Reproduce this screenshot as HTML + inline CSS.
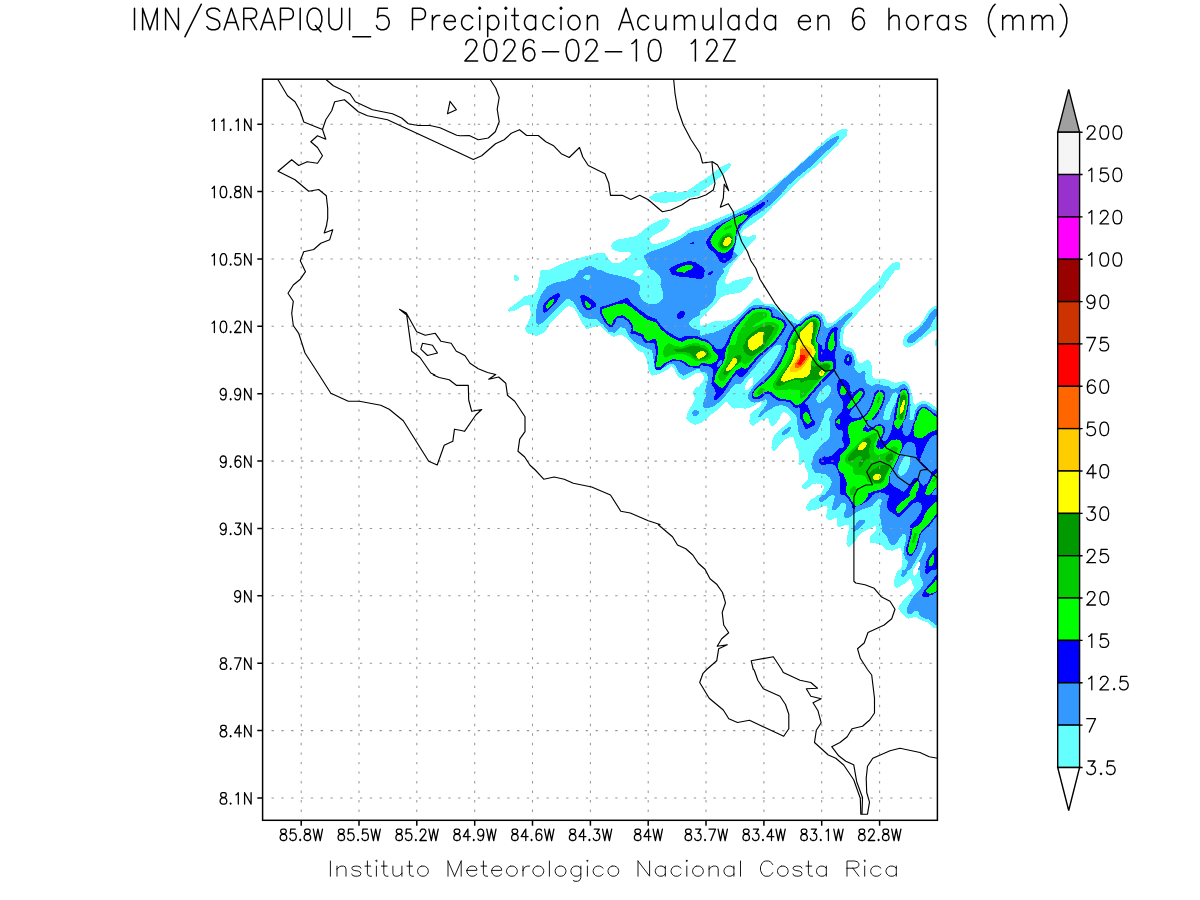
<!DOCTYPE html>
<html lang="es"><head><meta charset="utf-8"><title>IMN/SARAPIQUI_5 Precipitacion Acumulada en 6 horas (mm)</title>
<style>html,body{margin:0;padding:0;background:#fff;width:1200px;height:900px;overflow:hidden;font-family:"Liberation Sans",sans-serif}svg{display:block}</style>
</head><body>
<svg width="1200" height="900" viewBox="0 0 1200 900" role="img" aria-label="IMN/SARAPIQUI_5 Precipitacion Acumulada en 6 horas (mm) 2026-02-10 12Z">
<title>IMN/SARAPIQUI_5 Precipitacion Acumulada en 6 horas (mm) 2026-02-10 12Z</title>
<desc>Mapa de precipitacion acumulada en 6 horas (mm) sobre Costa Rica. Latitudes 8.1N a 11.1N, longitudes 85.8W a 82.8W. Escala de colores: 3.5, 7, 12.5, 15, 20, 25, 30, 40, 50, 60, 75, 90, 100, 120, 150, 200. Instituto Meteorologico Nacional Costa Rica</desc>
<defs><clipPath id="fc"><rect x="262.6" y="79.2" width="674.8" height="741.1"/></clipPath></defs>
<g shape-rendering="crispEdges" clip-path="url(#fc)"><path fill="#66ffff" fill-rule="evenodd" d="M936.4 339.1L935.1 340.1L934.6 341.1L934.9 345.4L935.9 346.6L936.4 346.6L937.1 345.9L937.1 339.6ZM936.4 305.6L932.4 307.1L928.4 310.9L924.1 318.9L920.4 323.9L917.9 326.4L913.1 329.9L907.6 333.1L904.6 336.1L903.1 340.1L903.4 344.6L904.6 346.1L907.4 347.6L911.9 346.4L915.6 344.1L930.4 332.9L933.4 330.9L936.1 330.1L937.1 329.1L937.1 306.4ZM515.4 274.9L514.4 275.4L513.6 276.4L514.1 279.4L516.1 281.4L517.1 281.4L519.1 279.4L519.4 277.9L516.6 274.9ZM731.4 164.6L730.1 163.4L727.9 163.4L720.9 167.1L710.6 174.9L699.1 182.4L694.1 186.4L686.9 190.9L677.4 192.6L664.4 191.9L656.1 193.1L653.4 194.4L649.9 196.6L649.1 197.4L649.1 197.9L651.4 199.6L655.4 201.9L662.4 202.9L673.9 202.1L682.1 200.4L689.9 197.6L698.9 195.6L699.9 194.6L699.9 193.1L701.1 191.6L711.4 184.9L727.1 170.6L729.1 168.4ZM508.1 309.1L507.9 310.6L508.9 311.6L510.1 311.6L516.6 310.1L524.9 304.6L526.4 304.6L528.9 305.4L530.1 306.6L530.9 315.1L528.1 322.4L525.4 327.6L525.4 329.4L526.4 332.1L527.4 333.4L535.6 335.6L537.6 335.6L544.6 332.1L546.1 330.4L550.1 323.4L566.6 307.4L568.4 306.1L569.4 306.1L572.6 307.4L574.1 308.6L578.1 314.6L581.9 323.4L586.6 328.9L587.6 329.1L594.4 326.6L600.1 326.1L606.9 332.6L613.1 336.6L614.4 336.6L619.1 334.6L620.9 334.6L625.1 336.9L632.1 343.6L637.1 350.1L642.6 352.4L643.9 353.6L646.9 360.1L648.6 370.6L650.9 374.4L651.9 375.4L652.9 375.6L660.4 373.4L666.4 370.4L671.4 366.4L672.4 366.6L674.6 369.4L677.6 376.6L682.9 379.9L684.1 379.9L690.6 376.6L694.4 373.9L696.1 373.1L700.1 372.9L702.1 373.6L703.1 374.6L703.9 376.6L703.9 378.9L703.1 381.1L700.1 384.4L700.1 385.6L698.9 386.9L696.1 387.4L694.4 389.1L692.9 392.6L692.9 394.1L694.9 397.9L694.9 399.1L691.6 405.6L687.6 412.1L686.4 417.9L686.4 419.1L690.6 422.9L694.4 424.6L696.1 424.6L702.1 422.4L704.1 420.4L706.4 419.6L707.6 417.6L709.4 415.9L714.1 412.6L718.6 408.9L724.9 402.6L726.4 401.6L727.9 402.6L728.6 404.4L730.9 406.6L733.9 408.6L738.1 408.1L745.6 408.6L750.4 407.4L754.9 405.1L759.1 402.4L760.9 402.4L761.9 403.6L761.4 404.6L758.4 407.9L753.4 411.1L750.4 414.6L749.9 418.9L749.1 421.1L750.4 424.1L752.4 426.4L753.6 426.1L759.9 420.4L760.9 419.9L764.4 419.9L766.6 418.1L767.4 418.1L768.6 419.4L769.1 421.9L770.9 425.4L771.9 426.4L773.1 426.4L775.6 424.4L777.6 420.9L780.1 418.9L780.6 415.4L783.1 412.4L784.4 412.1L787.1 413.4L790.1 416.6L791.1 418.9L784.4 425.9L780.1 429.4L774.6 434.9L772.1 440.9L771.4 448.1L772.6 450.6L773.1 451.1L774.1 451.1L777.4 447.9L780.4 443.9L785.1 439.4L789.6 437.1L792.9 437.4L793.9 438.4L796.6 447.9L799.4 452.1L799.4 457.9L798.4 464.1L798.9 465.1L799.9 465.4L803.1 462.4L803.6 462.4L804.6 463.4L805.1 466.9L806.9 470.6L808.4 475.1L808.1 478.9L807.6 479.9L802.6 484.6L801.9 485.9L801.6 487.6L802.9 488.6L806.4 488.9L812.4 484.4L816.6 483.4L821.1 484.1L823.6 485.9L823.9 486.9L823.4 489.9L820.6 493.9L819.1 495.1L817.1 495.6L814.6 497.9L811.9 498.9L809.4 501.4L806.1 506.6L806.1 508.6L806.6 509.6L808.1 510.6L810.4 510.6L814.4 509.9L819.6 508.4L823.9 505.9L825.6 505.6L827.4 507.1L827.6 508.6L825.9 517.4L826.9 519.1L829.1 520.4L830.1 520.4L833.1 519.1L835.1 517.6L836.4 518.1L836.9 518.9L836.9 521.6L836.4 524.1L837.1 526.1L838.6 527.4L839.9 527.4L841.4 526.4L844.9 525.1L848.1 524.6L849.1 525.6L849.4 527.4L846.9 537.9L846.4 544.1L847.4 546.1L848.6 547.1L850.1 546.4L853.1 543.9L856.9 538.6L858.4 535.9L861.6 532.9L871.6 527.9L874.1 526.1L875.4 526.1L876.6 527.9L875.6 530.9L873.6 533.1L870.9 535.4L869.6 538.4L869.6 541.4L869.9 542.4L870.9 543.4L875.6 543.4L879.9 544.4L882.9 546.4L886.4 549.6L888.6 550.4L893.1 550.6L900.1 547.4L901.1 548.4L902.6 559.1L902.1 564.9L900.6 569.1L899.9 569.9L898.6 570.1L897.4 571.4L895.9 574.4L894.4 579.9L894.4 585.4L895.1 586.6L896.4 587.6L897.9 587.6L904.9 583.4L909.4 579.1L910.4 579.1L911.4 580.1L912.6 584.6L914.1 587.4L914.1 588.6L911.4 592.4L904.4 599.1L901.6 602.4L898.9 606.4L898.4 608.4L900.4 612.1L907.1 618.4L909.1 618.6L914.4 617.1L916.1 617.1L919.9 619.6L927.6 622.4L933.6 627.6L936.1 628.1L936.9 627.6L937.1 408.6L935.9 407.1L932.9 405.4L929.1 402.4L925.1 401.1L922.4 401.1L918.1 402.9L916.1 404.6L915.1 404.6L914.4 404.1L913.1 402.1L912.6 396.6L909.6 385.9L908.1 383.4L906.1 381.6L904.6 381.1L902.6 381.1L900.1 382.1L894.6 382.9L888.6 380.4L883.6 378.9L876.4 379.4L873.4 377.6L872.1 375.9L871.6 372.6L871.6 365.1L870.4 361.4L869.1 360.4L866.4 360.4L864.9 361.1L862.1 363.4L860.4 363.4L858.9 362.9L857.6 361.4L855.1 353.1L853.4 349.9L851.9 348.4L846.6 346.9L843.6 343.9L842.6 340.9L844.1 329.4L845.1 327.4L854.1 317.6L862.6 307.6L882.9 287.4L894.4 271.4L896.1 269.9L898.9 269.9L899.6 269.4L899.9 263.6L898.1 262.1L896.4 262.1L891.6 263.6L884.6 270.9L882.9 273.4L880.9 277.6L877.4 282.1L870.9 287.6L863.4 295.1L859.1 301.6L855.9 304.9L845.9 311.9L833.9 321.9L831.4 323.4L827.9 323.1L826.9 322.1L825.6 319.6L824.4 315.4L820.9 312.4L816.9 311.1L813.9 311.1L810.1 312.1L804.4 315.6L799.6 319.6L796.9 319.6L795.9 319.1L791.9 314.6L780.1 309.4L773.1 304.4L766.1 304.1L763.6 303.6L759.4 298.6L757.9 297.6L756.9 297.6L753.6 299.9L742.6 310.9L738.6 314.4L733.4 318.4L731.1 319.6L725.6 320.9L716.6 320.9L710.6 322.6L707.1 324.4L703.9 325.4L701.1 325.6L699.9 324.4L699.9 319.9L700.4 318.9L715.6 303.9L718.1 300.6L721.1 297.6L726.1 294.9L739.1 292.9L741.4 291.9L744.1 290.1L746.9 287.4L750.9 282.4L753.4 278.4L752.6 277.1L751.1 276.6L749.1 276.6L742.1 278.9L733.4 280.9L727.9 284.1L726.6 284.1L725.9 283.6L724.6 281.9L724.6 280.9L726.9 274.9L728.9 271.1L729.4 269.1L731.9 265.4L743.1 251.9L756.4 237.9L756.4 236.6L755.9 235.6L754.6 234.6L749.4 236.6L746.6 236.6L742.1 235.6L741.1 234.9L740.9 234.1L742.9 231.1L744.9 229.1L754.6 222.6L764.1 215.6L772.6 206.4L789.9 189.4L801.9 178.1L817.1 165.4L829.6 152.9L837.6 145.6L847.1 134.9L847.6 130.1L846.9 129.4L840.9 129.4L830.9 135.4L816.9 147.9L798.4 165.4L783.4 178.1L766.6 191.6L749.1 204.1L733.6 211.9L700.1 225.9L694.9 226.9L690.1 228.6L687.1 230.4L683.1 234.1L680.9 235.6L665.9 241.1L656.1 244.1L654.1 244.1L651.4 243.1L649.9 241.6L649.6 238.6L650.4 237.6L655.4 234.1L663.4 230.1L668.1 225.4L669.9 221.1L669.6 219.9L666.9 217.9L659.4 220.4L649.6 225.4L643.6 229.9L636.6 235.9L627.6 237.9L618.4 239.4L613.9 241.6L612.6 242.9L611.4 244.9L611.1 246.1L612.9 249.4L614.1 250.4L619.9 251.9L628.4 251.9L630.6 252.9L631.1 253.6L631.1 254.4L627.6 258.1L619.9 262.6L612.4 262.6L608.9 259.1L605.1 253.6L604.1 253.1L599.9 252.6L578.9 258.1L566.6 261.9L556.6 266.1L549.4 270.1L541.4 270.1L540.4 271.1L537.9 287.4L536.6 290.1L534.4 293.6L532.9 295.1L526.6 295.6L524.9 296.1L517.6 302.1ZM919.1 562.1L919.9 562.6L920.1 563.9L919.6 565.9L918.1 568.6L917.9 571.1L916.4 574.1L914.4 575.9L913.1 574.9L912.9 570.6L916.9 563.4L917.6 562.6ZM752.4 377.4L753.4 378.4L752.9 384.1L751.1 386.6L748.4 389.4L746.9 390.4L745.9 390.4L745.1 389.4L744.9 386.1L748.1 380.9L751.1 377.6ZM642.6 270.6L643.1 271.6L642.9 272.9L639.6 275.9L638.4 276.1L634.1 275.6L633.1 274.6L633.1 274.1L636.4 270.9L637.9 270.1L641.6 269.9Z"/><path fill="#3399ff" fill-rule="evenodd" d="M865.4 520.9L863.4 519.6L861.6 519.6L858.6 520.9L855.1 525.1L852.9 530.1L853.1 531.1L853.6 531.6L854.6 531.6L856.9 530.1L864.9 522.6ZM790.1 427.1L789.1 426.9L784.9 429.6L782.9 431.6L781.9 433.4L781.9 434.6L782.6 435.4L783.9 435.4L788.1 432.4L789.6 430.9L790.6 428.9L790.6 427.6ZM696.6 409.9L695.1 409.9L692.1 412.1L692.9 415.6L693.9 416.6L697.1 415.9L698.1 414.9L699.1 412.6L698.9 411.6ZM936.1 308.6L934.1 309.6L929.4 314.4L926.6 319.1L921.9 325.6L916.1 331.1L910.4 335.1L908.6 336.9L907.1 339.6L907.1 341.4L908.1 342.6L909.1 343.1L911.4 343.1L913.6 342.4L923.6 334.1L929.1 328.6L933.9 319.6L937.1 314.9L937.1 309.4ZM545.9 288.1L540.9 295.1L537.4 304.1L535.9 312.9L535.9 322.6L536.9 323.9L538.4 324.6L540.4 324.4L544.4 320.9L565.1 300.1L567.4 298.6L569.1 298.6L573.9 302.6L578.6 310.6L583.6 316.9L590.1 319.4L596.4 319.4L597.4 319.9L603.6 325.4L608.4 331.6L609.6 332.1L614.4 332.6L615.1 332.4L620.4 327.1L624.4 328.1L625.6 329.4L629.1 336.1L633.4 340.9L639.6 344.9L646.6 348.4L650.6 349.6L652.1 351.1L653.6 359.6L654.1 365.6L654.9 368.1L656.1 369.6L658.9 370.1L660.1 369.9L662.4 368.1L665.6 366.6L669.4 363.9L671.6 363.6L673.9 364.4L675.1 365.6L677.9 371.1L680.1 373.4L683.4 375.6L684.1 375.6L696.1 369.6L698.6 368.9L700.1 369.9L700.1 370.9L700.9 371.6L703.9 371.6L705.6 372.6L706.9 373.9L707.9 377.1L707.9 380.1L705.4 389.1L705.4 391.6L706.1 393.9L706.1 395.9L704.4 399.1L702.9 404.6L703.1 406.4L705.1 408.1L707.6 408.1L710.9 407.4L714.4 405.6L718.9 402.4L724.9 396.4L730.4 389.4L735.4 383.9L737.4 383.6L738.6 384.1L740.1 384.1L741.6 382.9L766.1 354.1L772.6 347.6L776.4 344.9L780.9 344.9L781.9 346.1L780.4 350.4L777.1 356.6L770.4 367.9L765.9 373.6L754.9 384.1L749.1 392.6L747.9 395.9L747.9 397.6L748.9 399.6L750.4 401.1L752.9 402.4L754.4 402.6L758.9 402.1L765.1 399.4L765.6 399.4L766.9 400.6L767.1 403.1L763.9 408.4L758.9 414.4L758.4 416.6L759.4 417.4L761.1 416.6L766.1 411.9L775.1 406.4L779.9 405.4L782.9 405.4L787.1 407.1L791.4 411.4L793.1 412.6L795.6 415.1L796.6 417.1L796.6 421.6L797.6 424.9L798.1 430.6L800.1 436.6L801.1 437.6L804.6 439.6L806.9 439.6L809.1 439.1L810.6 436.1L812.9 434.1L816.1 432.4L817.9 430.4L819.9 426.6L821.6 421.4L823.4 418.9L824.1 413.6L826.4 410.1L828.6 408.4L830.4 408.4L831.4 409.4L831.9 410.6L831.9 412.6L829.1 418.9L829.9 422.4L830.1 426.4L829.6 437.1L829.1 438.1L820.4 446.4L814.6 453.4L813.6 455.4L813.1 459.4L811.4 463.4L811.9 468.1L815.1 472.4L816.1 472.9L824.9 474.1L826.6 474.9L830.1 477.9L831.6 481.1L831.6 483.1L830.1 487.6L824.9 494.6L824.1 495.1L822.1 495.1L820.9 496.1L819.4 498.6L819.4 501.4L820.4 502.4L822.1 502.4L831.1 495.1L833.9 494.9L834.9 496.4L832.1 507.1L832.4 509.6L833.1 510.4L834.1 510.4L835.6 509.6L839.6 505.9L839.9 504.4L841.1 503.1L843.6 502.9L844.6 503.4L845.9 504.9L846.4 508.1L844.6 511.9L843.6 516.4L844.9 517.6L846.1 518.1L847.6 518.1L852.6 515.4L856.9 511.9L862.4 509.1L866.4 508.1L872.4 505.9L874.4 502.9L876.6 500.6L878.6 499.4L880.9 499.1L881.9 500.1L880.1 507.1L880.1 516.6L881.4 523.6L881.9 531.4L882.4 532.4L887.4 537.4L889.6 543.6L891.9 545.6L894.9 544.9L896.4 543.6L899.9 537.4L902.9 533.9L904.1 533.6L905.9 535.1L905.9 540.6L904.4 546.4L903.4 553.4L905.4 558.6L907.9 561.4L908.1 562.9L905.9 568.9L904.9 569.9L902.9 570.1L901.9 571.1L901.4 575.1L901.6 576.4L902.4 577.1L904.1 576.6L906.9 573.4L907.6 571.1L910.1 569.4L911.9 567.1L919.9 553.4L921.9 548.6L923.1 543.6L924.4 542.4L925.6 542.9L925.9 546.9L923.4 553.6L920.6 559.1L918.9 561.1L920.1 562.9L919.6 565.9L918.1 568.6L918.4 569.6L919.4 570.1L920.1 571.1L920.1 576.6L922.6 581.1L923.1 584.6L920.4 589.1L915.4 593.9L910.9 599.9L907.4 606.9L906.6 609.4L906.6 611.6L907.1 612.9L908.4 613.9L911.4 613.9L914.9 611.1L916.9 610.4L918.1 611.4L919.6 614.9L921.1 616.9L924.9 618.4L928.6 619.1L935.1 624.6L936.1 625.1L937.1 624.4L936.9 411.6L935.1 410.1L931.9 408.4L927.4 404.6L923.4 403.9L921.9 404.1L919.4 405.1L917.6 406.6L915.4 410.6L914.1 415.1L913.6 418.9L912.4 420.1L910.6 420.1L909.4 418.9L910.6 405.4L910.1 394.9L908.4 388.4L905.9 384.9L904.1 384.1L901.1 384.6L898.6 387.1L893.4 389.4L891.6 388.9L888.1 386.1L883.6 385.6L877.9 383.9L876.4 383.9L872.6 385.9L871.4 385.9L867.9 384.1L866.1 382.1L864.9 378.4L865.6 372.9L864.6 370.6L863.4 370.6L860.4 372.9L858.1 372.9L856.6 371.6L854.4 367.9L854.9 361.4L853.6 355.9L852.1 352.9L850.4 351.6L847.6 351.1L842.9 349.1L841.1 347.4L840.4 345.9L839.4 340.1L839.9 334.4L841.6 328.1L845.9 321.9L852.4 314.9L852.6 313.1L851.6 312.4L848.9 313.1L845.4 315.4L837.1 322.4L832.6 325.6L828.4 327.6L826.1 327.6L824.6 326.1L822.6 318.9L821.9 317.4L818.6 314.1L816.6 313.6L813.9 313.6L810.1 314.6L804.4 318.1L800.4 321.6L800.1 322.9L799.1 323.9L798.1 324.1L795.1 323.4L788.9 320.1L784.4 316.9L777.9 310.4L773.1 306.9L757.4 304.6L754.6 304.6L749.9 307.1L737.9 318.9L732.6 322.9L724.4 327.9L714.4 332.4L704.9 334.4L701.1 335.9L699.9 334.9L699.9 330.9L699.4 330.1L692.1 327.9L688.6 323.9L688.9 322.6L693.1 318.4L698.4 316.1L699.6 315.1L699.9 311.9L700.9 310.6L705.4 308.6L712.9 301.4L715.9 295.1L715.9 286.6L717.6 280.9L724.6 271.1L724.1 270.1L722.9 269.6L722.9 268.9L732.9 260.6L737.6 255.9L737.4 254.4L735.1 253.1L733.9 251.9L733.6 250.6L735.6 244.6L737.6 235.1L741.9 226.9L750.1 218.4L758.1 213.6L769.9 205.4L780.6 194.6L787.9 185.9L800.6 174.6L812.9 164.9L824.9 152.9L834.1 144.4L839.1 138.6L839.4 136.9L838.9 136.1L837.6 135.6L830.1 139.4L815.6 151.1L780.6 181.9L763.4 198.4L750.6 207.4L723.9 219.1L709.1 227.4L701.6 230.4L696.1 230.6L688.9 233.1L679.9 239.6L670.4 244.4L660.4 248.4L650.6 251.6L644.9 254.9L643.6 256.6L647.6 264.6L650.6 268.9L651.9 269.9L653.1 269.9L654.1 270.4L657.6 273.9L660.9 278.1L661.1 279.4L660.4 285.1L662.9 291.9L662.9 298.9L661.6 300.4L658.1 302.9L656.6 303.6L648.6 303.6L642.9 300.9L641.4 299.4L639.4 294.4L639.4 291.6L640.4 287.6L640.4 286.1L638.1 283.6L634.6 280.9L626.4 277.6L607.6 273.1L600.9 270.1L597.9 270.1L595.1 267.9L591.6 266.1L589.4 266.1L585.9 266.9L584.6 267.6L582.9 269.6L581.9 270.1L579.6 270.1L578.6 270.9L575.4 276.4L574.1 277.4L566.1 280.4L555.1 282.6L547.6 286.4ZM906.6 455.1L908.1 455.9L909.6 457.4L909.6 464.6L908.1 469.4L905.9 472.9L903.9 474.9L901.6 475.9L900.6 475.9L899.1 475.1L898.1 473.9L898.1 470.9L899.9 464.9L903.1 458.4L905.6 455.4ZM895.6 392.1L896.9 393.1L897.6 394.6L897.6 396.4L896.1 401.9L892.9 408.1L890.6 414.1L889.9 418.9L888.6 420.1L884.4 420.1L883.1 418.9L883.9 412.9L886.4 405.6L889.6 400.6L892.1 394.9L894.1 392.9ZM828.9 385.4L830.9 387.6L830.9 390.4L830.1 393.6L826.9 397.6L821.9 402.1L820.4 402.9L817.9 402.9L816.6 401.6L816.4 397.9L818.6 393.4L821.6 389.6L824.9 386.4L827.6 385.1ZM583.1 276.9L585.6 274.9L589.4 275.1L590.6 276.4L590.9 277.9L590.1 278.9L587.9 279.9L586.4 279.9L583.9 278.6L583.1 277.9Z"/><path fill="#0000ff" fill-rule="evenodd" d="M936.9 574.9L936.1 574.9L931.9 581.1L924.4 590.1L922.4 594.4L922.4 595.4L923.4 596.6L928.9 596.6L932.4 594.9L936.9 591.9ZM936.6 547.4L936.1 547.4L931.9 552.1L929.1 556.1L926.6 561.1L925.4 566.1L925.6 568.9L924.6 570.6L924.6 571.6L926.4 574.4L927.4 574.4L930.9 570.1L936.1 569.9L937.1 568.9L937.1 547.9ZM839.4 379.6L837.9 381.1L837.1 384.6L837.6 391.9L839.9 396.6L843.4 402.1L843.4 406.9L841.6 412.1L836.9 416.9L834.6 420.6L834.6 422.6L835.4 425.6L837.1 428.6L838.6 429.9L841.6 429.9L843.1 431.6L843.4 435.9L841.9 438.6L841.9 440.1L843.9 443.9L843.9 446.1L842.6 447.6L839.1 448.6L832.9 454.9L831.6 455.6L828.1 456.9L824.1 456.4L820.4 457.6L818.6 459.9L818.9 462.1L820.1 463.9L822.1 464.9L824.6 464.9L829.6 463.6L831.4 463.6L834.4 465.1L835.6 466.4L837.9 470.6L838.9 474.6L840.1 477.6L840.1 493.9L841.1 494.9L844.6 494.9L846.1 496.1L850.4 501.9L851.4 503.9L852.1 507.1L853.6 508.9L854.6 508.6L855.4 507.1L856.9 505.6L860.9 504.9L865.9 502.1L870.4 498.1L872.4 495.4L875.4 493.1L879.4 492.4L884.6 492.9L886.6 494.6L888.1 494.9L889.1 496.1L887.1 501.9L886.6 506.6L888.1 509.6L889.4 510.9L892.4 512.6L897.9 517.1L899.1 517.1L901.6 515.4L913.1 503.6L916.4 502.4L918.4 502.4L920.1 503.1L920.9 503.9L921.9 506.4L921.9 508.6L920.4 512.9L916.9 518.4L910.6 524.6L910.1 525.6L910.6 530.6L909.6 536.1L906.1 548.9L906.1 551.1L907.6 554.9L909.9 556.4L910.9 556.4L911.9 555.6L917.1 547.9L919.1 541.1L919.9 536.1L920.6 534.4L925.1 529.4L929.1 526.1L937.1 515.9L937.1 496.1L936.1 495.1L932.6 495.1L931.9 494.4L931.9 493.6L937.1 486.4L937.1 469.6L936.1 468.9L933.6 470.9L931.6 471.9L930.9 471.9L930.9 474.4L929.6 478.4L927.4 482.9L924.1 485.6L923.1 485.6L921.4 483.9L919.4 481.1L917.9 478.1L916.1 477.4L913.4 478.9L910.6 483.4L906.4 489.1L903.6 491.6L902.4 491.4L899.4 489.1L895.1 487.1L890.9 483.4L890.4 482.4L889.9 478.4L890.1 475.6L891.1 472.4L895.1 466.1L898.4 459.6L900.6 453.1L903.4 447.1L905.6 443.9L906.9 442.6L908.1 442.1L911.1 442.1L913.4 443.4L914.6 444.6L916.1 448.4L916.1 454.4L919.1 461.1L922.1 465.1L924.1 467.1L927.6 468.6L927.4 467.6L921.4 461.4L920.1 459.4L920.1 458.6L924.9 447.4L928.9 439.9L932.4 436.4L935.1 435.1L936.1 435.1L937.1 434.4L937.1 415.6L935.9 414.1L933.6 412.9L926.6 407.4L924.9 406.6L921.6 406.6L918.1 409.9L915.9 414.9L914.9 419.4L910.1 433.6L907.4 436.4L905.4 435.9L903.6 434.1L902.4 430.9L902.6 426.6L903.6 421.6L906.1 418.1L908.4 407.4L909.4 398.6L908.4 392.6L907.1 389.9L905.1 388.4L902.6 388.6L900.4 390.4L899.9 393.1L898.1 395.9L894.9 409.6L894.4 414.1L894.4 419.1L892.9 421.6L892.4 426.6L890.6 432.9L887.6 438.6L885.1 441.4L883.6 441.6L881.9 439.9L883.1 435.6L885.1 431.6L884.6 427.6L883.4 425.6L880.9 424.4L878.9 424.4L875.9 425.1L870.6 428.4L867.6 428.6L866.4 427.4L866.1 425.1L867.4 421.4L868.4 420.1L874.1 419.6L876.4 417.1L879.1 412.9L882.4 406.4L884.4 401.1L885.4 395.9L885.1 392.9L883.1 390.6L881.4 389.9L878.9 389.6L877.1 390.4L874.4 393.4L873.4 397.6L870.9 404.9L868.1 410.6L865.4 414.6L863.9 415.9L862.6 415.9L858.4 417.6L852.4 418.1L849.4 415.4L849.1 414.6L851.1 410.6L859.1 402.6L864.1 396.1L864.9 394.6L864.9 392.4L864.4 390.4L861.9 387.9L860.4 387.6L856.6 390.4L852.9 392.6L852.1 392.6L850.9 391.6L849.9 389.1L849.6 385.4L847.9 382.1L845.9 380.4L842.6 379.1L840.9 379.1ZM847.6 354.4L846.6 354.9L845.1 356.9L844.4 359.4L844.4 362.9L846.4 365.4L848.6 365.6L850.1 365.1L850.9 364.4L851.9 361.9L852.1 360.1L851.6 356.9L851.1 355.9L849.1 354.4ZM816.1 315.4L813.1 315.4L808.6 316.9L804.6 319.9L800.9 323.4L795.4 325.9L793.9 327.4L791.6 330.9L785.4 343.6L785.6 346.4L784.4 350.9L779.6 360.4L775.4 367.4L767.9 377.1L764.9 380.1L760.1 383.4L754.4 389.4L751.6 393.9L751.9 397.1L753.1 398.6L755.1 399.4L757.4 399.4L761.1 398.1L765.1 394.6L767.1 393.6L768.6 393.6L770.4 394.4L773.1 397.4L777.9 400.4L779.6 400.9L785.6 401.4L789.9 402.6L793.6 406.6L795.6 407.9L796.9 407.9L798.9 407.1L800.1 408.1L800.1 418.9L802.4 421.1L803.4 425.1L805.1 428.4L806.4 429.4L813.6 425.6L814.6 424.4L814.9 421.1L812.1 418.6L810.9 416.1L809.6 410.6L807.9 405.9L806.6 404.6L805.1 404.1L804.6 402.6L807.4 400.1L821.1 383.9L835.1 370.1L835.6 369.1L835.9 361.4L834.6 354.6L836.4 346.9L837.4 344.6L837.4 342.6L836.9 340.9L836.9 332.9L837.9 328.6L837.1 327.6L835.1 327.1L832.1 328.4L830.9 329.6L828.6 332.9L826.1 339.1L825.4 342.6L825.4 346.9L824.9 348.4L823.9 349.6L823.1 349.6L821.9 347.9L821.9 345.6L820.1 344.9L818.4 343.1L817.1 341.1L817.4 336.9L820.1 328.9L821.4 323.6L820.9 320.4L820.1 318.6L818.1 316.1ZM682.9 310.6L680.9 310.9L677.6 313.6L677.1 315.1L677.1 317.4L678.4 318.9L679.4 319.1L682.1 318.1L683.9 316.6L685.4 313.6L685.4 312.6ZM599.6 308.1L599.6 310.4L600.4 314.1L604.4 321.6L606.6 324.6L608.6 326.4L611.1 327.4L612.1 327.1L614.6 324.1L616.4 319.6L617.6 318.4L622.4 317.6L623.6 317.9L628.9 322.6L631.4 326.6L631.6 328.6L630.4 332.4L631.1 333.6L635.4 334.4L641.1 336.6L642.4 338.4L643.1 341.1L644.1 342.1L648.4 343.4L653.9 343.4L655.1 344.4L655.9 353.9L654.4 361.4L654.9 368.1L656.1 369.6L660.6 369.6L666.6 363.6L673.4 360.9L679.1 361.1L683.1 363.1L687.6 366.4L689.6 367.1L699.1 368.1L699.9 367.4L699.9 366.6L700.6 365.6L702.1 365.4L708.1 365.9L711.1 367.4L712.9 369.4L713.4 373.9L711.9 379.6L711.4 383.9L711.9 385.1L713.9 387.6L715.6 392.4L715.6 393.9L713.6 397.6L713.6 399.1L714.6 400.4L715.6 400.4L718.1 398.9L724.6 391.4L732.4 378.6L735.6 374.4L736.9 374.4L737.9 375.9L739.4 376.9L742.1 376.9L743.6 375.9L745.9 373.6L758.6 357.9L770.1 347.9L776.6 341.6L784.4 330.6L786.6 325.4L786.6 324.1L784.9 320.9L783.9 319.9L778.4 317.4L774.4 316.4L772.9 315.1L772.1 310.6L770.6 309.1L767.1 308.1L761.1 307.4L753.6 307.9L751.9 308.4L744.9 314.1L733.4 327.6L728.9 336.6L726.1 343.4L724.1 346.9L722.9 348.1L720.1 349.4L718.6 349.4L716.1 348.4L714.6 346.9L714.1 345.6L712.6 344.9L709.4 341.4L705.4 339.4L701.1 338.4L698.9 336.6L694.1 335.9L685.4 335.9L680.9 338.1L679.6 338.1L674.1 335.4L666.9 330.9L660.9 325.1L656.6 319.4L647.9 315.6L639.4 309.6L633.9 305.1L630.9 302.1L627.9 298.1L626.9 297.9L617.1 301.9L600.6 307.1ZM721.1 360.1L722.1 361.1L721.9 363.1L720.4 365.6L718.9 367.1L717.9 367.1L717.1 366.1L717.4 364.6L719.1 361.4L720.4 360.1ZM580.4 295.6L580.6 299.9L582.6 305.4L584.1 307.9L586.9 310.6L589.9 309.9L595.4 306.9L596.4 305.9L596.6 304.9L595.9 302.9L589.9 298.1L583.1 294.6L581.6 294.6ZM559.1 293.1L557.4 293.4L553.4 295.1L548.4 298.9L545.9 301.4L542.6 306.1L542.6 309.9L544.1 312.6L545.4 312.6L556.6 302.1L559.9 295.9L559.9 294.1ZM713.4 271.4L711.9 271.1L709.6 272.1L707.9 273.4L707.6 274.6L708.4 275.4L709.9 275.1L713.1 272.6L713.6 271.9ZM669.4 269.9L670.9 272.9L672.1 274.4L680.1 276.9L690.9 277.6L699.1 279.1L700.9 279.1L703.1 277.6L704.4 274.9L704.6 270.6L703.4 267.9L699.1 264.4L694.4 261.9L689.1 260.9L681.4 262.9L673.4 266.1L671.6 267.1L669.6 269.1ZM694.6 243.4L693.9 242.4L692.6 242.4L690.6 242.9L690.4 243.9L691.1 244.4L693.6 244.4ZM764.4 202.4L762.4 202.4L746.6 211.9L736.6 216.1L721.6 223.9L717.6 226.4L715.1 228.9L709.9 235.4L706.1 241.6L706.1 242.6L707.9 247.4L709.6 249.4L713.9 252.4L715.6 254.1L720.1 261.6L723.1 262.9L725.4 263.1L731.6 258.4L732.1 257.4L733.4 249.9L735.9 241.9L736.6 233.1L737.6 230.6L741.1 225.4L743.4 222.9L753.4 213.4L760.9 208.4L765.1 204.1L765.1 203.1ZM767.4 200.1L766.9 201.1L767.4 201.9L767.9 201.9L768.4 200.9L767.9 200.1Z"/><path fill="#00ff00" fill-rule="evenodd" d="M936.9 579.6L936.1 579.6L932.9 584.1L926.4 590.1L926.1 591.4L927.1 592.9L928.9 593.6L930.9 593.6L934.6 592.1L936.9 590.6ZM933.4 555.1L932.6 555.1L931.9 555.9L929.6 560.1L928.6 563.1L928.6 565.1L929.6 566.4L931.1 566.1L932.4 564.9L933.6 562.4L934.4 556.9ZM936.6 501.6L936.1 501.6L926.9 510.9L924.4 515.6L923.1 519.6L920.9 522.9L919.4 524.4L912.9 528.4L912.4 529.4L911.9 533.1L908.9 544.9L908.1 549.4L908.6 552.6L909.6 553.9L911.6 553.9L913.6 551.4L915.9 546.9L919.4 534.4L921.9 530.4L928.4 524.4L932.6 519.1L935.1 515.1L936.6 513.6L937.1 512.6L937.1 502.1ZM918.4 481.6L916.9 481.4L916.1 481.9L913.1 486.1L909.4 493.6L909.9 495.9L900.6 502.9L897.1 506.6L896.1 509.1L896.1 510.6L897.1 512.4L897.9 512.9L899.1 512.9L900.6 512.1L903.9 508.9L908.9 502.9L911.4 500.4L914.6 498.1L916.4 496.1L915.9 493.6L917.6 490.4L919.1 486.1L919.1 483.6ZM936.4 473.4L932.4 477.6L927.6 485.9L925.6 491.1L925.4 494.1L926.1 494.9L930.1 494.9L933.9 489.9L937.1 486.4L937.1 473.9ZM839.6 418.6L838.4 418.9L836.1 420.9L836.4 422.9L838.6 424.1L839.9 423.4L840.1 419.1ZM804.9 412.4L803.9 413.1L803.1 414.6L803.4 419.1L806.1 422.9L807.6 423.6L808.9 423.6L811.4 421.9L811.6 420.6L810.4 419.4L809.4 415.9L807.9 413.1L806.6 412.4ZM925.1 408.4L922.6 408.1L921.6 408.6L919.4 411.4L917.4 416.6L917.1 418.9L915.4 421.4L914.1 425.9L913.4 430.4L914.1 434.9L915.1 436.4L918.1 438.1L920.9 438.1L923.1 437.6L929.1 432.9L931.4 431.6L936.1 430.1L937.1 428.9L936.9 417.1L936.1 416.4L933.1 414.9L928.9 410.9ZM881.1 391.9L878.6 391.9L876.4 393.6L874.4 398.9L872.6 405.1L870.1 410.1L866.9 414.6L864.4 417.1L861.6 419.1L859.4 420.1L855.6 420.9L851.1 422.6L848.9 425.1L848.4 426.4L848.1 432.4L849.4 436.6L850.1 442.9L849.4 444.6L846.1 449.4L843.4 452.6L840.4 455.4L840.1 460.1L838.6 462.4L837.9 464.4L838.1 468.4L840.4 471.9L841.1 472.6L842.6 473.1L843.6 474.1L846.6 482.4L846.9 484.1L845.9 489.4L846.6 493.9L849.4 497.1L854.1 505.1L855.1 505.9L858.1 505.4L861.9 503.4L865.6 499.6L868.1 496.1L868.1 493.6L874.9 490.9L881.1 489.6L885.6 486.9L887.4 485.1L889.4 481.6L889.4 476.6L890.6 472.4L896.6 461.1L901.4 449.1L901.9 446.6L901.9 443.9L901.1 441.6L899.9 440.4L896.9 439.4L892.9 439.9L891.6 440.4L887.6 443.6L883.1 448.4L882.1 448.9L879.4 449.4L877.1 447.6L876.4 446.4L876.9 442.1L878.4 439.6L881.9 435.4L882.9 433.1L883.1 428.4L882.1 426.9L880.4 425.6L877.4 425.9L876.4 426.4L872.9 429.6L868.4 431.6L864.1 431.4L862.6 430.4L862.9 429.1L866.6 423.6L866.6 422.6L865.9 421.4L866.1 420.4L866.6 419.9L871.6 419.6L877.1 412.4L880.6 405.9L882.9 400.1L883.6 396.6L883.4 394.1ZM861.9 390.9L860.4 390.6L858.1 392.1L849.9 401.9L847.4 406.4L847.4 407.6L847.9 408.6L849.1 409.1L851.1 408.1L858.6 400.6L862.4 395.1L862.9 392.1ZM904.6 389.9L902.4 390.4L900.1 392.6L900.1 396.4L899.1 399.1L896.9 411.4L896.4 416.4L896.6 419.1L894.4 421.1L894.4 424.4L895.4 427.4L896.9 428.9L897.6 429.1L898.6 428.9L899.4 428.1L904.4 419.9L907.1 407.4L908.1 400.9L907.9 395.9L907.4 393.4L906.4 391.1ZM844.1 385.4L842.4 385.6L841.1 386.6L840.1 389.9L840.1 392.9L840.6 393.9L841.9 394.9L844.1 394.9L845.9 393.6L846.9 391.4L846.4 387.9L845.6 386.6ZM848.6 357.1L847.9 357.4L847.4 358.4L847.4 360.6L848.1 361.4L848.9 361.1L849.4 359.4L849.4 358.1ZM833.6 332.4L832.9 332.4L832.1 333.1L830.6 335.6L828.9 340.6L828.1 344.4L828.1 347.1L828.6 349.6L830.6 351.6L831.6 351.4L833.1 349.9L834.9 344.9L834.9 342.6L834.4 340.9L834.4 333.6ZM817.9 318.4L815.4 317.1L812.9 317.1L808.6 318.9L804.6 321.9L800.9 325.6L798.6 326.4L795.4 329.1L793.4 332.4L787.6 343.9L788.1 346.1L786.9 350.4L779.9 364.9L775.1 371.9L770.4 377.4L765.1 382.6L758.4 386.9L754.1 391.6L752.9 394.4L752.9 395.6L753.6 396.6L754.9 397.4L756.1 397.4L760.4 395.6L763.1 392.9L766.9 391.4L769.9 391.6L771.4 392.4L775.4 395.9L779.6 398.4L786.1 399.6L789.9 399.9L790.9 400.4L792.9 402.9L795.4 405.1L796.9 405.4L798.6 404.9L802.1 402.4L805.6 398.9L819.4 382.6L832.9 368.9L833.4 367.9L833.1 363.6L832.6 362.4L831.4 361.1L829.9 360.9L820.1 361.9L818.6 360.6L817.6 351.6L818.1 344.4L816.1 341.1L816.6 336.6L819.9 325.6L819.6 321.1ZM769.6 310.6L765.9 309.4L761.4 308.9L754.4 309.6L752.6 310.4L746.6 315.1L736.4 327.4L731.4 335.9L729.4 343.9L727.4 345.9L726.6 347.6L725.6 351.4L725.1 357.6L722.6 363.4L718.1 369.6L715.1 375.4L714.4 380.9L714.6 382.1L718.1 386.1L721.9 387.9L722.9 387.6L725.1 385.4L734.9 372.1L737.1 369.9L741.6 367.4L743.1 367.9L744.4 368.9L745.6 368.9L747.9 367.4L756.9 356.6L769.9 345.4L771.4 344.6L778.6 335.9L784.4 326.1L784.4 324.1L782.1 321.1L777.1 318.9L771.9 317.4L770.9 316.1L770.6 312.6ZM601.9 310.1L601.9 313.1L608.4 324.1L611.4 324.9L612.4 323.6L613.6 319.9L616.9 316.1L618.6 315.6L622.9 315.4L627.6 318.6L630.1 321.1L633.1 325.6L632.9 330.4L633.6 331.1L636.1 331.6L642.6 334.1L643.6 335.1L644.9 338.6L646.1 339.9L647.6 340.6L649.4 340.6L654.1 338.9L655.1 338.9L656.1 339.6L658.4 349.6L656.1 364.4L656.1 366.4L656.9 367.1L660.6 367.1L664.9 362.9L671.9 359.4L679.4 359.6L685.4 362.1L689.1 365.1L690.6 365.9L698.9 365.9L701.1 363.4L706.4 363.4L709.6 363.9L712.4 363.4L715.6 361.9L718.4 358.4L718.4 356.6L716.9 354.4L713.1 350.4L711.6 346.1L707.9 342.9L704.4 341.4L701.4 341.1L698.9 339.1L694.1 338.4L687.9 339.1L682.6 341.6L680.9 341.6L677.4 340.4L668.9 335.6L665.6 333.4L660.4 328.6L656.9 322.9L647.9 319.9L639.4 313.9L631.6 307.4L625.4 303.6L624.1 303.4L615.6 304.6L602.9 308.9ZM585.1 301.6L584.9 303.1L586.4 306.6L587.9 307.9L589.6 307.9L590.6 306.4L590.4 304.6L587.4 301.4L586.1 301.1ZM553.4 299.1L552.6 298.9L550.1 300.4L546.6 304.6L546.1 305.6L546.1 307.1L547.1 308.6L547.9 308.6L550.9 305.9L553.9 301.6L554.1 300.1ZM692.9 266.6L691.4 265.1L685.9 265.1L679.1 267.9L676.4 269.9L676.1 271.1L677.4 272.1L684.9 272.6L688.1 270.4L691.4 269.4L692.6 267.9ZM747.4 214.9L743.4 214.4L732.4 218.9L723.4 224.4L716.4 230.6L714.1 233.4L710.4 239.9L710.4 241.1L712.6 246.6L718.1 251.6L723.6 253.1L725.9 252.9L730.6 249.4L732.1 247.9L735.1 241.6L735.9 231.9L738.4 225.4L739.6 224.1L743.9 221.1L745.6 219.4L747.9 215.9Z"/><path fill="#00cc00" fill-rule="evenodd" d="M916.1 532.4L914.6 532.9L913.1 536.6L912.4 540.1L912.4 542.6L912.9 543.4L913.6 543.4L914.1 542.9L916.1 537.9L916.9 533.6ZM854.4 486.4L853.4 486.4L851.9 487.1L850.4 488.9L849.6 490.9L849.6 493.4L850.1 494.4L850.9 494.9L854.4 494.9L855.4 494.1L856.1 492.6L856.6 489.1L855.4 487.1ZM934.9 477.9L933.9 478.1L932.1 480.1L932.1 481.4L933.1 482.4L934.4 482.1L935.4 480.9L935.6 478.6ZM875.4 432.9L872.6 433.6L864.9 437.4L860.1 441.1L848.6 452.6L845.9 455.9L845.1 457.4L845.1 461.4L846.6 463.1L849.4 465.1L851.9 466.1L853.1 467.4L852.9 471.9L855.4 474.6L861.4 474.6L864.4 476.4L865.9 477.9L867.6 480.9L868.9 482.1L873.6 484.4L879.4 484.4L882.4 483.1L883.9 481.6L885.1 478.1L897.4 452.4L897.6 448.4L896.6 447.1L894.1 446.1L893.1 446.1L889.9 448.6L888.9 450.9L887.6 452.1L878.6 454.9L876.9 454.6L874.6 452.6L873.6 449.4L873.6 446.6L874.6 443.1L877.4 437.4L877.1 433.6L876.4 432.9ZM879.6 395.9L878.6 396.6L877.1 400.6L877.4 403.1L878.4 402.9L879.9 399.6L880.4 396.4ZM904.4 392.4L902.4 392.6L900.6 394.1L900.1 395.1L900.1 403.1L899.4 406.4L898.4 416.4L898.6 418.9L899.6 419.9L902.4 419.9L903.4 418.9L905.9 408.1L906.9 401.6L906.6 396.6L905.9 394.1ZM763.9 387.9L760.4 388.4L758.9 389.9L757.4 392.1L757.4 393.6L758.4 394.6L759.1 394.9L761.1 393.9L764.6 390.6L764.9 389.1ZM711.6 355.4L710.1 351.6L705.6 345.6L704.9 345.1L701.1 345.1L698.9 343.1L695.9 342.6L688.9 344.1L681.6 346.9L675.1 345.9L668.6 342.9L667.9 343.1L664.6 346.6L662.9 352.1L662.9 354.1L664.4 357.1L665.4 357.9L671.4 354.9L675.9 354.4L683.4 354.4L688.4 356.1L691.1 357.6L694.9 360.6L697.6 361.4L700.9 361.4L706.4 360.4L709.4 358.9L710.6 357.6ZM814.9 318.6L813.1 318.6L809.6 320.4L805.1 323.4L800.9 327.1L799.9 328.9L797.6 331.1L794.9 334.9L790.4 343.6L790.9 344.9L792.1 344.9L793.1 345.9L791.6 352.6L784.9 366.1L779.1 373.6L772.9 383.9L772.9 386.4L773.6 388.4L777.1 390.6L784.4 390.1L789.1 389.4L798.9 389.9L800.1 391.1L800.1 398.1L801.1 398.9L804.4 396.9L818.6 380.6L829.4 369.9L830.9 366.4L830.6 364.9L828.9 363.4L823.4 363.1L818.9 363.6L817.6 362.4L816.6 358.4L815.9 352.6L816.4 346.1L814.9 343.6L814.9 340.9L818.9 324.4L818.1 321.4L816.6 319.4ZM766.4 312.6L764.6 311.6L758.1 311.9L752.6 313.6L745.1 322.6L738.1 334.1L737.4 336.1L736.1 343.9L734.9 345.1L729.6 345.1L728.6 346.1L726.9 358.6L724.4 364.9L721.1 369.6L718.4 375.1L718.4 377.9L719.4 380.4L721.1 381.4L722.6 381.4L724.4 380.1L731.9 370.1L736.9 365.1L740.6 362.6L742.1 362.4L744.9 364.6L745.6 364.6L748.9 362.4L755.1 356.1L764.9 348.6L770.6 342.4L776.6 333.4L778.9 328.4L778.9 325.6L777.4 323.9L773.1 322.1L767.9 321.6L762.6 323.1L757.9 325.6L755.1 326.6L753.9 326.6L753.4 326.1L754.6 324.6L760.1 321.4L766.4 316.9L767.1 314.9L767.1 313.6ZM731.1 233.4L727.1 233.1L723.1 235.4L720.6 237.4L718.1 243.4L718.1 245.4L718.6 247.6L720.9 249.9L721.9 250.4L723.6 250.4L728.1 249.4L732.4 244.6L732.9 243.1L733.4 238.4L731.9 233.9ZM732.4 225.1L729.4 225.1L724.6 227.6L723.9 228.9L724.4 229.6L725.9 230.1L730.4 227.9L732.1 226.1Z"/><path fill="#009900" fill-rule="evenodd" d="M887.9 465.9L885.4 464.6L883.9 464.6L879.4 465.9L872.6 469.9L868.9 473.1L868.6 474.4L870.6 479.1L873.4 482.4L874.4 482.9L878.4 483.4L881.9 482.1L883.1 480.9L887.9 471.4L889.1 467.9L888.9 466.9ZM892.9 453.6L889.9 453.4L888.9 453.9L885.6 457.1L885.4 458.6L886.4 461.4L887.4 462.4L889.9 461.9L892.9 458.4L893.4 457.1L893.4 454.4ZM868.9 437.9L866.9 438.1L865.4 438.9L850.4 453.9L847.9 457.4L848.1 460.9L848.9 461.6L852.4 460.9L857.4 456.6L859.1 455.6L860.4 455.6L862.1 457.4L861.9 458.6L859.4 462.1L858.6 465.1L858.6 466.4L859.4 467.1L860.4 467.4L861.9 466.1L864.6 460.4L866.1 459.1L868.6 458.6L869.9 457.6L870.6 455.9L868.9 452.9L868.6 450.9L870.1 446.9L870.9 441.1L869.9 438.6ZM903.9 394.6L902.4 395.1L900.9 396.6L900.1 398.1L900.1 409.6L899.6 411.1L899.6 413.9L900.1 415.4L900.1 418.9L901.1 419.9L902.4 418.9L905.9 403.1L905.9 397.1L905.4 395.9ZM739.9 354.9L738.6 354.6L735.1 356.4L733.1 357.9L729.1 362.4L725.4 367.9L723.4 371.9L723.4 373.4L724.6 374.9L726.9 374.6L728.1 373.9L739.9 362.1L741.6 357.9L741.4 356.4ZM708.6 354.9L708.6 353.4L707.4 350.9L706.1 349.6L702.9 347.9L701.4 347.6L699.1 345.9L693.1 345.4L687.4 346.9L680.1 349.4L674.9 348.6L674.4 349.4L676.4 351.6L677.4 352.1L683.9 351.9L689.4 353.1L690.6 353.9L694.1 357.4L699.9 359.6L703.4 359.1L705.6 358.1L708.1 356.1ZM771.9 325.9L769.6 325.1L762.4 326.1L753.4 331.6L746.4 338.1L745.6 339.9L745.4 343.6L743.4 345.6L743.1 347.6L743.9 350.9L747.1 354.6L750.9 356.1L752.1 356.1L757.4 352.9L761.4 349.9L763.9 347.4L765.4 345.1L765.4 343.9L771.6 333.9L774.1 328.9L773.9 327.9ZM815.1 320.6L812.6 320.4L810.1 321.4L805.4 324.9L800.4 329.6L800.1 332.4L799.6 333.4L796.6 336.6L792.9 343.6L793.1 344.6L794.4 345.1L795.1 346.1L794.4 351.9L792.4 357.4L788.6 364.9L776.4 382.4L776.4 384.4L777.9 386.1L779.1 386.1L782.6 385.1L788.4 381.9L795.4 379.9L799.1 379.6L800.1 380.6L800.1 382.1L800.6 382.6L801.6 382.6L809.4 379.6L814.4 380.1L817.4 379.6L820.4 378.4L824.9 373.4L828.4 370.1L830.1 367.4L830.1 366.1L829.6 365.4L827.4 364.1L824.4 363.9L818.6 366.1L814.1 366.6L812.1 365.4L810.9 363.6L811.1 361.1L815.6 352.9L815.6 351.4L814.1 347.6L814.1 345.1L813.4 342.6L814.4 336.4L816.9 325.9L816.9 323.4L816.1 321.6ZM730.6 236.1L728.6 235.4L727.1 235.4L723.6 237.1L722.1 238.6L720.1 243.4L720.4 245.9L721.4 247.1L723.1 248.1L724.9 248.1L728.6 247.1L729.9 246.1L731.9 242.4L731.6 237.4Z"/><path fill="#ffff00" fill-rule="evenodd" d="M880.1 474.1L878.6 473.6L876.9 473.6L874.4 474.9L872.6 476.9L872.9 478.4L875.1 480.4L877.4 480.4L879.6 479.4L880.9 477.9L880.9 475.1ZM865.9 441.9L862.9 441.9L859.4 445.1L857.6 448.4L857.6 449.6L858.4 450.4L861.1 450.4L863.6 448.9L865.6 446.9L866.9 444.6L866.9 443.6ZM904.4 399.6L903.1 400.9L900.4 407.4L899.6 411.1L899.6 413.4L900.1 414.1L900.9 414.1L901.9 413.1L903.6 409.4L905.1 402.1L905.1 400.1ZM824.1 370.6L821.4 370.4L818.9 372.9L818.6 374.4L820.6 376.6L821.9 376.4L824.4 374.1L824.9 371.4ZM736.1 358.4L733.9 358.1L732.6 359.1L726.4 368.6L726.1 369.9L727.1 371.4L728.1 371.4L730.1 370.1L734.4 365.9L736.4 363.1L737.1 361.6L737.1 360.4ZM705.9 353.1L704.9 352.1L702.9 351.1L701.1 350.9L698.1 352.1L696.4 353.9L696.1 355.1L697.1 357.4L698.4 358.6L699.4 358.9L703.6 356.9L705.9 354.6ZM762.6 331.6L759.4 331.9L753.4 335.6L748.6 339.9L748.1 340.9L748.4 346.4L749.1 348.6L750.9 350.4L752.6 350.6L756.4 349.1L763.1 343.4L763.6 332.6ZM812.4 321.6L810.9 322.1L800.6 332.1L800.1 333.1L799.9 337.1L797.6 340.4L795.6 344.4L795.9 346.1L795.4 350.6L793.4 357.9L789.9 364.9L782.1 376.4L780.6 379.6L780.6 380.6L781.4 381.4L784.4 381.6L794.1 378.4L800.6 378.1L805.9 377.1L807.4 376.4L809.6 373.9L810.4 371.9L810.9 361.9L815.6 352.9L815.6 351.4L813.6 346.4L810.9 343.9L811.9 336.1L813.4 328.9L813.4 322.6ZM729.9 237.4L727.6 237.4L725.9 238.1L724.6 239.4L723.1 242.6L723.4 244.6L724.4 245.6L727.4 245.6L730.6 243.4L731.1 242.6L731.6 239.4Z"/><path fill="#ffcc00" fill-rule="evenodd" d="M809.1 346.9L805.9 345.1L801.1 345.1L800.4 345.6L800.1 353.9L796.9 357.9L794.1 362.4L790.6 366.9L789.6 369.4L789.6 370.6L790.4 371.6L791.6 372.4L793.9 372.4L797.9 371.1L800.9 369.4L804.4 365.9L810.6 356.4L812.4 351.9L812.1 350.1Z"/><path fill="#ff6600" fill-rule="evenodd" d="M807.1 349.9L803.1 348.4L801.1 348.6L800.1 349.6L800.1 357.1L799.6 358.1L796.9 360.9L794.6 364.6L794.6 366.6L795.9 368.4L798.4 368.1L800.6 366.9L804.6 362.6L808.1 357.4L809.9 352.9L809.6 352.1Z"/><path fill="#ff0000" fill-rule="evenodd" d="M804.4 354.9L801.6 354.6L800.6 355.1L800.1 355.9L800.1 359.4L797.9 362.4L797.4 363.6L798.1 364.9L799.6 365.1L800.6 364.6L804.4 360.4L805.6 357.9L805.4 355.9Z"/></g>
<g stroke="#989898" stroke-width="1.05" stroke-dasharray="2.4 7.42" fill="none"><line x1="271.5" y1="797.9" x2="937.4" y2="797.9"/><line x1="271.5" y1="730.6" x2="937.4" y2="730.6"/><line x1="271.5" y1="663.2" x2="937.4" y2="663.2"/><line x1="271.5" y1="595.8" x2="937.4" y2="595.8"/><line x1="271.5" y1="528.4" x2="937.4" y2="528.4"/><line x1="271.5" y1="461.1" x2="937.4" y2="461.1"/><line x1="271.5" y1="393.7" x2="937.4" y2="393.7"/><line x1="271.5" y1="326.3" x2="937.4" y2="326.3"/><line x1="271.5" y1="258.9" x2="937.4" y2="258.9"/><line x1="271.5" y1="191.5" x2="937.4" y2="191.5"/><line x1="271.5" y1="124.2" x2="937.4" y2="124.2"/></g>
<g stroke="#989898" stroke-width="1.05" stroke-dasharray="2.4 7.134" fill="none"><line x1="301.2" y1="812" x2="301.2" y2="79.2"/><line x1="359" y1="812" x2="359" y2="79.2"/><line x1="416.8" y1="812" x2="416.8" y2="79.2"/><line x1="474.7" y1="812" x2="474.7" y2="79.2"/><line x1="532.5" y1="812" x2="532.5" y2="79.2"/><line x1="590.4" y1="812" x2="590.4" y2="79.2"/><line x1="648.2" y1="812" x2="648.2" y2="79.2"/><line x1="706" y1="812" x2="706" y2="79.2"/><line x1="763.9" y1="812" x2="763.9" y2="79.2"/><line x1="821.7" y1="812" x2="821.7" y2="79.2"/><line x1="879.6" y1="812" x2="879.6" y2="79.2"/></g>
<g clip-path="url(#fc)"><path d="M278 79.7L287.5 95.8L295 101.7L300 110.8L303.8 122L322.5 129.5L325.8 139.2L317.5 135.8L310.8 141.7L317.5 147.5L322.5 155.8L317.5 163.3L307.2 161.7L298.7 165.5L291.7 159.7L278 171.3L295 179.7L308.7 191.3L318.7 189.5L326.3 195.8L327.7 208.3L327.7 218.3L326.7 224.2L326.7 225L324.2 233L332.8 229.7L329.7 239.7L320.8 243.3L313.7 249.5L303.7 251.7L300.3 260.8L305.5 271.7L300.3 279.2L293.3 285L288 293.3L293.3 301.3L291.7 313.3L293.3 325.5L298.7 333.3L305 353L319.2 375L330.8 393.3L348.3 401.2L359.5 401.2L380.8 405.3L389.2 409.2L403.3 420.8L428.7 461.2L437.2 465L444.2 445.3L452.8 441.3L454.5 429.2L460 430.3L464.5 431.3L475.8 415L481.7 409.5L471.7 411.3L468.7 400L468.3 385.3L460 385.3L456.3 385.3L449.2 379.7L439.2 377.5L433.3 375L435 375L430.8 373L420 357.5L411.7 351.3L406.7 315L399.5 309.3M399.5 309.3L406.3 313L416.7 331.7L425.3 335.3L435.3 333.3L440.8 341.2L451.2 343.3L456.3 351.2L460 353L465 355.8L470 363.3L478.3 368.7L487.5 372.5L495.8 374.5L495 375L488.7 379.2L498.7 377L505.8 383.3L507.5 395.3L514.7 401.3L525 416.7L525 431.7L519.7 439.2L518 451.2L524.7 457L530 465.3L535.3 470L543.7 479.2L554.2 477L564.2 479.2L573.3 483.3L591.7 487L610.5 495L620.8 511.2L630.3 513L648.3 520.8L660 524.5L658.3 524.7L672.5 536.7L677.5 545L685.8 548.8L692.8 555L698.3 563.3L705 569.2L710 578.7L716.7 584.2L722.5 592.5L725.5 602.8L722.2 612.5L723.7 625L728.7 632.8L721.7 638.8L717.2 646.3L727.2 644.7L718.7 648.7L716.7 660.8L706.7 669.5L703 673.3L699.7 682.5L709.2 698.3L723.3 710L728.8 718.8L737.5 722.5L749.5 720.3L783.7 736.3L788.8 728.7L788.8 714.2L785.5 704.5L780 696.3L763.3 688.8L757.8 680.3L754.2 670L753.3 669.5L751.2 660.8L773.3 656.7L781.7 669.5L783.3 672.5L800 680.3L810.8 682.5L817.5 688.3L806.3 688.8L810.8 696.3L821.2 698.8L813 702.8L818 710.8L821.2 722.8L816.3 730.3L814.5 742.5L828.3 755L835.8 758.3L843.7 765L853.7 779.7L860.3 798.3L860.8 814.2L867.5 814.2L869.5 802.2L866.7 792.5L866.2 778.3L867.5 766.3L872.8 758.3L890 750.8L900 748.3L920 752.5L929.2 756.7L937.7 758.3M422.5 343.3L432.5 345.3L437.5 353L427.5 355.5L420.8 349.2L422.5 343.3M322.5 129.5L325.8 119.7L331.7 110.8L334.7 101.7L344.5 99.7L358.3 111.7L367.5 115.8L387.5 119.7L460 153.3L473.3 159.5L481.7 155.8L495.5 143.7L504.2 139.7L511.3 133.3L519.5 129.7L526.7 135.5L538.3 135.5L545.8 141.7L553.7 145.8L561.2 153.7L569.2 157.5L579.5 147.5L582.8 157L588.3 165.5L605 173.7L608.8 183.3L610.5 195.3L622.2 195.3L630.8 199.5L639.7 195.3L648.3 199.7L660 209.7L662.5 211.7L670.8 210L681.7 205L690 199.2L697.5 198L705.8 195L713.3 190L715 183.3L713 173.3L712 162.5M326.3 79.7L333.3 85.8L350 93.7L355.3 101.7L372.5 109.7L392.5 113.7L401.7 118L408.3 123.7L418.3 125.5L430 125.5L440 127.7L456.7 135.3L460 135.8L469.2 135.5L478.3 139.7L488.3 138L495.3 131.7L499.2 121.7L497.2 109.2L499.2 97.5L495.8 88.3L490.3 79.7M450 101.3L456.3 109.7L447.5 113.7L450 101.3M673.7 79.7L675 93.3L677.5 108.3L683.3 125L690.8 139.2L700 153.3L702.5 163L712.5 161.7L717.5 165L723 175L728.7 190.8L724.2 184.2L723.3 198.3L720.3 207.2L728.3 203.7L733.3 211.7L735.3 224.2L735.8 225L741.7 241.7L747.5 251.7L750.8 260.8L755.8 268.3L760 279.2L775 303.3L793.3 326.7L803.3 345L816.7 364.2L825 371.3L834.2 369.7L836.7 375L834.2 370L840 380L853.3 400.8L868.3 425.8L877.5 431.3L880.8 440L886.7 448.3L898.3 454.2L915.8 457.5L923.3 465.8L937.7 478.3M927 469.7L924.2 469.5L920.3 470.8L917.5 480L909.2 485L897.5 476.7L890 465.8L880 461.3L871.7 464.2L866.7 471.7L872.5 484.7L865.8 485L857.5 489.2L853.9 496.7L853.9 520L853.9 581.3L855.8 583L865 584.7L874.2 588.3L881.2 596.7L890 601.2L895 609.2L891.7 618.7L884.2 625L868 632.5L864.2 643L857.5 648.7L860.3 658.3L867.5 669.5L871.7 675L874.5 698.3L874.5 713L869.7 720L862.5 726.3L852 728.7L847.2 736.7L840 742.5L831.7 746.7L838.7 755.8L845.8 761.3L853.7 764.7L856.7 781.7L862.5 797.5L862 814.2" fill="none" stroke="#000" stroke-width="1.15" stroke-linejoin="round" stroke-linecap="round"/></g>
<rect x="262.6" y="79.2" width="674.8" height="741.1" fill="none" stroke="#000" stroke-width="1.5"/>
<path d="M257.3 797.9H262.6M257.3 730.6H262.6M257.3 663.2H262.6M257.3 595.8H262.6M257.3 528.4H262.6M257.3 461.1H262.6M257.3 393.7H262.6M257.3 326.3H262.6M257.3 258.9H262.6M257.3 191.5H262.6M257.3 124.2H262.6M301.2 820.4V825.7M359 820.4V825.7M416.8 820.4V825.7M474.7 820.4V825.7M532.5 820.4V825.7M590.4 820.4V825.7M648.2 820.4V825.7M706 820.4V825.7M763.9 820.4V825.7M821.7 820.4V825.7M879.6 820.4V825.7" stroke="#000" stroke-width="1.5" fill="none"/>
<path d="M223.5 797.6L222.1 797.1L221.2 796.5L220.7 795.4L220.7 794.3L221.2 793.2L222.5 792.7L224.4 792.7L225.8 793.2L226.2 794.3L226.2 795.4L225.8 796.5L224.9 797.1L223.5 797.6M223.5 797.6L221.6 798.1L220.7 799.2L220.2 800.3L220.2 802L220.7 803.1L221.2 803.6L222.5 804.1L224.4 804.1L225.8 803.6L226.2 803.1L226.7 802L226.7 800.3L226.2 799.2L225.3 798.1L223.5 797.6M230.6 803.1L230.2 803.6L230.6 804.1L231.1 803.6L230.6 803.1M236 794.9L236.9 794.3L238.3 792.7L238.3 804.1M251.1 792.7L251.1 804.1L244.6 792.7M244.6 792.7L244.6 804.1" fill="none" stroke="#000" stroke-width="1.3" stroke-linecap="round" stroke-linejoin="round"/>
<path d="M223.5 730.2L222.1 729.7L221.2 729.1L220.7 728L220.7 727L221.2 725.9L222.5 725.3L224.4 725.3L225.8 725.9L226.2 727L226.2 728L225.8 729.1L224.9 729.7L223.5 730.2M223.5 730.2L221.6 730.8L220.7 731.9L220.2 732.9L220.2 734.6L220.7 735.7L221.2 736.2L222.5 736.8L224.4 736.8L225.8 736.2L226.2 735.7L226.7 734.6L226.7 732.9L226.2 731.9L225.3 730.8L223.5 730.2M230.6 735.7L230.2 736.2L230.6 736.8L231.1 736.2L230.6 735.7M239.2 725.3L234.6 732.9L239.2 732.9M239.2 725.3L239.2 732.9M239.2 732.9L241.5 732.9M239.2 732.9L239.2 736.8M251.1 725.3L251.1 736.8L244.6 725.3M244.6 725.3L244.6 736.8" fill="none" stroke="#000" stroke-width="1.3" stroke-linecap="round" stroke-linejoin="round"/>
<path d="M223.5 662.8L222.1 662.3L221.2 661.8L220.7 660.7L220.7 659.6L221.2 658.5L222.5 657.9L224.4 657.9L225.8 658.5L226.2 659.6L226.2 660.7L225.8 661.8L224.9 662.3L223.5 662.8M223.5 662.8L221.6 663.4L220.7 664.5L220.2 665.6L220.2 667.2L220.7 668.3L221.2 668.8L222.5 669.4L224.4 669.4L225.8 668.8L226.2 668.3L226.7 667.2L226.7 665.6L226.2 664.5L225.3 663.4L223.5 662.8M230.6 668.3L230.2 668.8L230.6 669.4L231.1 668.8L230.6 668.3M234.6 657.9L241 657.9L236.4 669.4M251.1 657.9L251.1 669.4L244.6 657.9M244.6 657.9L244.6 669.4" fill="none" stroke="#000" stroke-width="1.3" stroke-linecap="round" stroke-linejoin="round"/>
<path d="M240.6 594.4L240.1 592.2L239.2 591.1L237.8 590.6L237.3 590.6L236 591.1L235 592.2L234.6 593.8L234.6 594.4L235 596L236 597.1L237.3 597.6L237.8 597.6L239.2 597.1L240.1 596L240.6 594.4M240.6 594.4L240.6 597.1L240.1 599.8L239.2 601.5L237.8 602L236.9 602L235.5 601.5L235 600.4M251.1 590.6L251.1 602L244.6 590.6M244.6 590.6L244.6 602" fill="none" stroke="#000" stroke-width="1.3" stroke-linecap="round" stroke-linejoin="round"/>
<path d="M226.2 527L225.8 524.8L224.9 523.7L223.5 523.2L223 523.2L221.6 523.7L220.7 524.8L220.2 526.5L220.2 527L220.7 528.6L221.6 529.7L223 530.3L223.5 530.3L224.9 529.7L225.8 528.6L226.2 527M226.2 527L226.2 529.7L225.8 532.5L224.9 534.1L223.5 534.6L222.5 534.6L221.2 534.1L220.7 533M230.6 533.5L230.2 534.1L230.6 534.6L231.1 534.1L230.6 533.5M235.5 523.2L240.6 523.2L237.8 527.5L239.2 527.5L240.1 528.1L240.6 528.6L241 530.3L241 531.4L240.6 533L239.7 534.1L238.3 534.6L236.9 534.6L235.5 534.1L235 533.5L234.6 532.5M251.1 523.2L251.1 534.6L244.6 523.2M244.6 523.2L244.6 534.6" fill="none" stroke="#000" stroke-width="1.3" stroke-linecap="round" stroke-linejoin="round"/>
<path d="M226.2 459.6L225.8 457.4L224.9 456.4L223.5 455.8L223 455.8L221.6 456.4L220.7 457.4L220.2 459.1L220.2 459.6L220.7 461.3L221.6 462.3L223 462.9L223.5 462.9L224.9 462.3L225.8 461.3L226.2 459.6M226.2 459.6L226.2 462.3L225.8 465.1L224.9 466.7L223.5 467.3L222.5 467.3L221.2 466.7L220.7 465.6M230.6 466.2L230.2 466.7L230.6 467.3L231.1 466.7L230.6 466.2M240.6 457.4L240.1 456.4L238.7 455.8L237.8 455.8L236.4 456.4L235.5 458L235 460.7L235 463.4M235 463.4L235.5 461.8L236.4 460.7L237.8 460.2L238.3 460.2L239.7 460.7L240.6 461.8L241 463.4L241 464L240.6 465.6L239.7 466.7L238.3 467.3L237.8 467.3L236.4 466.7L235.5 465.6L235 463.4M251.1 455.8L251.1 467.3L244.6 455.8M244.6 455.8L244.6 467.3" fill="none" stroke="#000" stroke-width="1.3" stroke-linecap="round" stroke-linejoin="round"/>
<path d="M226.2 392.2L225.8 390.1L224.9 389L223.5 388.4L223 388.4L221.6 389L220.7 390.1L220.2 391.7L220.2 392.2L220.7 393.9L221.6 395L223 395.5L223.5 395.5L224.9 395L225.8 393.9L226.2 392.2M226.2 392.2L226.2 395L225.8 397.7L224.9 399.3L223.5 399.9L222.5 399.9L221.2 399.3L220.7 398.2M230.6 398.8L230.2 399.3L230.6 399.9L231.1 399.3L230.6 398.8M240.6 392.2L240.1 390.1L239.2 389L237.8 388.4L237.3 388.4L236 389L235 390.1L234.6 391.7L234.6 392.2L235 393.9L236 395L237.3 395.5L237.8 395.5L239.2 395L240.1 393.9L240.6 392.2M240.6 392.2L240.6 395L240.1 397.7L239.2 399.3L237.8 399.9L236.9 399.9L235.5 399.3L235 398.2M251.1 388.4L251.1 399.9L244.6 388.4M244.6 388.4L244.6 399.9" fill="none" stroke="#000" stroke-width="1.3" stroke-linecap="round" stroke-linejoin="round"/>
<path d="M212.1 323.2L213 322.7L214.4 321.1L214.4 332.5M223 321.1L223.9 321.1L225.3 321.6L226.2 323.2L226.7 326L226.7 327.6L226.2 330.3L225.3 332L223.9 332.5L223 332.5L221.6 332L220.7 330.3L220.2 327.6L220.2 326L220.7 323.2L221.6 321.6L223 321.1M230.6 331.4L230.2 332L230.6 332.5L231.1 332L230.6 331.4M235 323.8L235 323.2L235.5 322.1L236 321.6L236.9 321.1L238.7 321.1L239.7 321.6L240.1 322.1L240.6 323.2L240.6 324.3L239.2 327.1L234.6 332.5L241 332.5M251.1 321.1L251.1 332.5L244.6 321.1M244.6 321.1L244.6 332.5" fill="none" stroke="#000" stroke-width="1.3" stroke-linecap="round" stroke-linejoin="round"/>
<path d="M212.1 255.9L213 255.3L214.4 253.7L214.4 265.1M223 253.7L223.9 253.7L225.3 254.2L226.2 255.9L226.7 258.6L226.7 260.2L226.2 262.9L225.3 264.6L223.9 265.1L223 265.1L221.6 264.6L220.7 262.9L220.2 260.2L220.2 258.6L220.7 255.9L221.6 254.2L223 253.7M230.6 264L230.2 264.6L230.6 265.1L231.1 264.6L230.6 264M240.1 253.7L235.5 253.7L235 258.6L235.5 258L236.9 257.5L238.3 257.5L239.7 258L240.6 259.1L241 260.8L241 261.9L240.6 263.5L239.7 264.6L238.3 265.1L236.9 265.1L235.5 264.6L235 264L234.6 262.9M251.1 253.7L251.1 265.1L244.6 253.7M244.6 253.7L244.6 265.1" fill="none" stroke="#000" stroke-width="1.3" stroke-linecap="round" stroke-linejoin="round"/>
<path d="M212.1 188.5L213 187.9L214.4 186.3L214.4 197.7M223 186.3L223.9 186.3L225.3 186.8L226.2 188.5L226.7 191.2L226.7 192.8L226.2 195.6L225.3 197.2L223.9 197.7L223 197.7L221.6 197.2L220.7 195.6L220.2 192.8L220.2 191.2L220.7 188.5L221.6 186.8L223 186.3M230.6 196.7L230.2 197.2L230.6 197.7L231.1 197.2L230.6 196.7M237.8 191.2L236.4 190.7L235.5 190.1L235 189L235 187.9L235.5 186.8L236.9 186.3L238.7 186.3L240.1 186.8L240.6 187.9L240.6 189L240.1 190.1L239.2 190.7L237.8 191.2M237.8 191.2L236 191.8L235 192.8L234.6 193.9L234.6 195.6L235 196.7L235.5 197.2L236.9 197.7L238.7 197.7L240.1 197.2L240.6 196.7L241 195.6L241 193.9L240.6 192.8L239.7 191.8L237.8 191.2M251.1 186.3L251.1 197.7L244.6 186.3M244.6 186.3L244.6 197.7" fill="none" stroke="#000" stroke-width="1.3" stroke-linecap="round" stroke-linejoin="round"/>
<path d="M212.1 121.1L213 120.6L214.4 118.9L214.4 130.4M221.6 121.1L222.5 120.6L223.9 118.9L223.9 130.4M230.6 129.3L230.2 129.8L230.6 130.4L231.1 129.8L230.6 129.3M236 121.1L236.9 120.6L238.3 118.9L238.3 130.4M251.1 118.9L251.1 130.4L244.6 118.9M244.6 118.9L244.6 130.4" fill="none" stroke="#000" stroke-width="1.3" stroke-linecap="round" stroke-linejoin="round"/>
<path d="M283.5 834L282.1 833.4L281.2 832.9L280.7 831.8L280.7 830.7L281.2 829.6L282.6 829.1L284.4 829.1L285.8 829.6L286.2 830.7L286.2 831.8L285.8 832.9L284.9 833.4L283.5 834M283.5 834L281.6 834.5L280.7 835.6L280.2 836.7L280.2 838.3L280.7 839.4L281.2 840L282.6 840.5L284.4 840.5L285.8 840L286.2 839.4L286.7 838.3L286.7 836.7L286.2 835.6L285.3 834.5L283.5 834M295.3 829.1L290.7 829.1L290.3 834L290.7 833.4L292.1 832.9L293.5 832.9L294.9 833.4L295.8 834.5L296.3 836.1L296.3 837.2L295.8 838.9L294.9 840L293.5 840.5L292.1 840.5L290.7 840L290.3 839.4L289.8 838.3M300.2 839.4L299.7 840L300.2 840.5L300.7 840L300.2 839.4M307.4 834L306 833.4L305.1 832.9L304.6 831.8L304.6 830.7L305.1 829.6L306.5 829.1L308.3 829.1L309.7 829.6L310.1 830.7L310.1 831.8L309.7 832.9L308.8 833.4L307.4 834M307.4 834L305.5 834.5L304.6 835.6L304.1 836.7L304.1 838.3L304.6 839.4L305.1 840L306.5 840.5L308.3 840.5L309.7 840L310.1 839.4L310.6 838.3L310.6 836.7L310.1 835.6L309.2 834.5L307.4 834M313.3 829.1L315.6 840.5M322.5 829.1L320.2 840.5M317.9 829.1L315.6 840.5M317.9 829.1L320.2 840.5" fill="none" stroke="#000" stroke-width="1.3" stroke-linecap="round" stroke-linejoin="round"/>
<path d="M341.3 834L339.9 833.4L339 832.9L338.5 831.8L338.5 830.7L339 829.6L340.4 829.1L342.2 829.1L343.6 829.6L344.1 830.7L344.1 831.8L343.6 832.9L342.7 833.4L341.3 834M341.3 834L339.5 834.5L338.5 835.6L338.1 836.7L338.1 838.3L338.5 839.4L339 840L340.4 840.5L342.2 840.5L343.6 840L344.1 839.4L344.5 838.3L344.5 836.7L344.1 835.6L343.2 834.5L341.3 834M353.2 829.1L348.6 829.1L348.1 834L348.6 833.4L349.9 832.9L351.3 832.9L352.7 833.4L353.6 834.5L354.1 836.1L354.1 837.2L353.6 838.9L352.7 840L351.3 840.5L349.9 840.5L348.6 840L348.1 839.4L347.6 838.3M358 839.4L357.6 840L358 840.5L358.5 840L358 839.4M367.5 829.1L362.9 829.1L362.4 834L362.9 833.4L364.3 832.9L365.7 832.9L367.1 833.4L368 834.5L368.4 836.1L368.4 837.2L368 838.9L367.1 840L365.7 840.5L364.3 840.5L362.9 840L362.4 839.4L362 838.3M371.1 829.1L373.4 840.5M380.3 829.1L378 840.5M375.7 829.1L373.4 840.5M375.7 829.1L378 840.5" fill="none" stroke="#000" stroke-width="1.3" stroke-linecap="round" stroke-linejoin="round"/>
<path d="M399.2 834L397.8 833.4L396.8 832.9L396.4 831.8L396.4 830.7L396.8 829.6L398.2 829.1L400.1 829.1L401.5 829.6L401.9 830.7L401.9 831.8L401.5 832.9L400.5 833.4L399.2 834M399.2 834L397.3 834.5L396.4 835.6L395.9 836.7L395.9 838.3L396.4 839.4L396.8 840L398.2 840.5L400.1 840.5L401.5 840L401.9 839.4L402.4 838.3L402.4 836.7L401.9 835.6L401 834.5L399.2 834M411 829.1L406.4 829.1L405.9 834L406.4 833.4L407.8 832.9L409.2 832.9L410.6 833.4L411.5 834.5L411.9 836.1L411.9 837.2L411.5 838.9L410.6 840L409.2 840.5L407.8 840.5L406.4 840L405.9 839.4L405.5 838.3M415.9 839.4L415.4 840L415.9 840.5L416.3 840L415.9 839.4M420.3 831.8L420.3 831.2L420.7 830.1L421.2 829.6L422.1 829.1L424 829.1L424.9 829.6L425.4 830.1L425.8 831.2L425.8 832.3L424.4 835L419.8 840.5L426.3 840.5M428.9 829.1L431.3 840.5M438.2 829.1L435.9 840.5M433.6 829.1L431.3 840.5M433.6 829.1L435.9 840.5" fill="none" stroke="#000" stroke-width="1.3" stroke-linecap="round" stroke-linejoin="round"/>
<path d="M457 834L455.6 833.4L454.7 832.9L454.2 831.8L454.2 830.7L454.7 829.6L456.1 829.1L457.9 829.1L459.3 829.6L459.8 830.7L459.8 831.8L459.3 832.9L458.4 833.4L457 834M457 834L455.1 834.5L454.2 835.6L453.8 836.7L453.8 838.3L454.2 839.4L454.7 840L456.1 840.5L457.9 840.5L459.3 840L459.8 839.4L460.2 838.3L460.2 836.7L459.8 835.6L458.8 834.5L457 834M467.9 829.1L463.3 836.7L467.9 836.7M467.9 829.1L467.9 836.7M467.9 836.7L470.3 836.7M467.9 836.7L467.9 840.5M473.7 839.4L473.3 840L473.7 840.5L474.2 840L473.7 839.4M483.7 832.9L483.2 830.7L482.3 829.6L480.9 829.1L480.4 829.1L479 829.6L478.1 830.7L477.7 832.3L477.7 832.9L478.1 834.5L479 835.6L480.4 836.1L480.9 836.1L482.3 835.6L483.2 834.5L483.7 832.9M483.7 832.9L483.7 835.6L483.2 838.3L482.3 840L480.9 840.5L480 840.5L478.6 840L478.1 838.9M486.8 829.1L489.1 840.5M496 829.1L493.7 840.5M491.4 829.1L489.1 840.5M491.4 829.1L493.7 840.5" fill="none" stroke="#000" stroke-width="1.3" stroke-linecap="round" stroke-linejoin="round"/>
<path d="M514.8 834L513.4 833.4L512.5 832.9L512.1 831.8L512.1 830.7L512.5 829.6L513.9 829.1L515.8 829.1L517.1 829.6L517.6 830.7L517.6 831.8L517.1 832.9L516.2 833.4L514.8 834M514.8 834L513 834.5L512.1 835.6L511.6 836.7L511.6 838.3L512.1 839.4L512.5 840L513.9 840.5L515.8 840.5L517.1 840L517.6 839.4L518.1 838.3L518.1 836.7L517.6 835.6L516.7 834.5L514.8 834M525.8 829.1L521.2 836.7L525.8 836.7M525.8 829.1L525.8 836.7M525.8 836.7L528.1 836.7M525.8 836.7L525.8 840.5M531.6 839.4L531.1 840L531.6 840.5L532 840L531.6 839.4M541.5 830.7L541 829.6L539.7 829.1L538.7 829.1L537.3 829.6L536.4 831.2L536 834L536 836.7M536 836.7L536.4 835L537.3 834L538.7 833.4L539.2 833.4L540.6 834L541.5 835L542 836.7L542 837.2L541.5 838.9L540.6 840L539.2 840.5L538.7 840.5L537.3 840L536.4 838.9L536 836.7M544.6 829.1L546.9 840.5M553.9 829.1L551.6 840.5M549.3 829.1L546.9 840.5M549.3 829.1L551.6 840.5" fill="none" stroke="#000" stroke-width="1.3" stroke-linecap="round" stroke-linejoin="round"/>
<path d="M572.7 834L571.3 833.4L570.4 832.9L569.9 831.8L569.9 830.7L570.4 829.6L571.8 829.1L573.6 829.1L575 829.6L575.4 830.7L575.4 831.8L575 832.9L574.1 833.4L572.7 834M572.7 834L570.8 834.5L569.9 835.6L569.4 836.7L569.4 838.3L569.9 839.4L570.4 840L571.8 840.5L573.6 840.5L575 840L575.4 839.4L575.9 838.3L575.9 836.7L575.4 835.6L574.5 834.5L572.7 834M583.6 829.1L579 836.7L583.6 836.7M583.6 829.1L583.6 836.7M583.6 836.7L585.9 836.7M583.6 836.7L583.6 840.5M589.4 839.4L588.9 840L589.4 840.5L589.9 840L589.4 839.4M594.3 829.1L599.3 829.1L596.6 833.4L598 833.4L598.9 834L599.3 834.5L599.8 836.1L599.8 837.2L599.3 838.9L598.4 840L597 840.5L595.7 840.5L594.3 840L593.8 839.4L593.3 838.3M602.5 829.1L604.8 840.5M611.7 829.1L609.4 840.5M607.1 829.1L604.8 840.5M607.1 829.1L609.4 840.5" fill="none" stroke="#000" stroke-width="1.3" stroke-linecap="round" stroke-linejoin="round"/>
<path d="M637.7 834L636.3 833.4L635.4 832.9L634.9 831.8L634.9 830.7L635.4 829.6L636.8 829.1L638.6 829.1L640 829.6L640.5 830.7L640.5 831.8L640 832.9L639.1 833.4L637.7 834M637.7 834L635.8 834.5L634.9 835.6L634.4 836.7L634.4 838.3L634.9 839.4L635.4 840L636.8 840.5L638.6 840.5L640 840L640.5 839.4L640.9 838.3L640.9 836.7L640.5 835.6L639.5 834.5L637.7 834M648.6 829.1L644 836.7L648.6 836.7M648.6 829.1L648.6 836.7M648.6 836.7L650.9 836.7M648.6 836.7L648.6 840.5M653.1 829.1L655.4 840.5M662.4 829.1L660.1 840.5M657.8 829.1L655.4 840.5M657.8 829.1L660.1 840.5" fill="none" stroke="#000" stroke-width="1.3" stroke-linecap="round" stroke-linejoin="round"/>
<path d="M688.4 834L687 833.4L686 832.9L685.6 831.8L685.6 830.7L686 829.6L687.4 829.1L689.3 829.1L690.7 829.6L691.1 830.7L691.1 831.8L690.7 832.9L689.7 833.4L688.4 834M688.4 834L686.5 834.5L685.6 835.6L685.1 836.7L685.1 838.3L685.6 839.4L686 840L687.4 840.5L689.3 840.5L690.7 840L691.1 839.4L691.6 838.3L691.6 836.7L691.1 835.6L690.2 834.5L688.4 834M695.6 829.1L700.7 829.1L697.9 833.4L699.3 833.4L700.2 834L700.7 834.5L701.1 836.1L701.1 837.2L700.7 838.9L699.8 840L698.4 840.5L697 840.5L695.6 840L695.1 839.4L694.7 838.3M705.1 839.4L704.6 840L705.1 840.5L705.5 840L705.1 839.4M709 829.1L715.5 829.1L710.9 840.5M718.1 829.1L720.5 840.5M727.4 829.1L725.1 840.5M722.8 829.1L720.5 840.5M722.8 829.1L725.1 840.5" fill="none" stroke="#000" stroke-width="1.3" stroke-linecap="round" stroke-linejoin="round"/>
<path d="M746.2 834L744.8 833.4L743.9 832.9L743.4 831.8L743.4 830.7L743.9 829.6L745.3 829.1L747.1 829.1L748.5 829.6L749 830.7L749 831.8L748.5 832.9L747.6 833.4L746.2 834M746.2 834L744.3 834.5L743.4 835.6L743 836.7L743 838.3L743.4 839.4L743.9 840L745.3 840.5L747.1 840.5L748.5 840L749 839.4L749.4 838.3L749.4 836.7L749 835.6L748 834.5L746.2 834M753.4 829.1L758.5 829.1L755.8 833.4L757.1 833.4L758.1 834L758.5 834.5L759 836.1L759 837.2L758.5 838.9L757.6 840L756.2 840.5L754.8 840.5L753.4 840L753 839.4L752.5 838.3M762.9 839.4L762.5 840L762.9 840.5L763.4 840L762.9 839.4M771.5 829.1L766.9 836.7L771.5 836.7M771.5 829.1L771.5 836.7M771.5 836.7L773.8 836.7M771.5 836.7L771.5 840.5M776 829.1L778.3 840.5M785.2 829.1L782.9 840.5M780.6 829.1L778.3 840.5M780.6 829.1L782.9 840.5" fill="none" stroke="#000" stroke-width="1.3" stroke-linecap="round" stroke-linejoin="round"/>
<path d="M804 834L802.6 833.4L801.7 832.9L801.3 831.8L801.3 830.7L801.7 829.6L803.1 829.1L805 829.1L806.3 829.6L806.8 830.7L806.8 831.8L806.3 832.9L805.4 833.4L804 834M804 834L802.2 834.5L801.3 835.6L800.8 836.7L800.8 838.3L801.3 839.4L801.7 840L803.1 840.5L805 840.5L806.3 840L806.8 839.4L807.3 838.3L807.3 836.7L806.8 835.6L805.9 834.5L804 834M811.3 829.1L816.4 829.1L813.6 833.4L815 833.4L815.9 834L816.4 834.5L816.8 836.1L816.8 837.2L816.4 838.9L815.4 840L814.1 840.5L812.7 840.5L811.3 840L810.8 839.4L810.4 838.3M820.8 839.4L820.3 840L820.8 840.5L821.2 840L820.8 839.4M826.1 831.2L827 830.7L828.4 829.1L828.4 840.5M833.8 829.1L836.1 840.5M843.1 829.1L840.8 840.5M838.5 829.1L836.1 840.5M838.5 829.1L840.8 840.5" fill="none" stroke="#000" stroke-width="1.3" stroke-linecap="round" stroke-linejoin="round"/>
<path d="M861.9 834L860.5 833.4L859.6 832.9L859.1 831.8L859.1 830.7L859.6 829.6L861 829.1L862.8 829.1L864.2 829.6L864.6 830.7L864.6 831.8L864.2 832.9L863.3 833.4L861.9 834M861.9 834L860 834.5L859.1 835.6L858.6 836.7L858.6 838.3L859.1 839.4L859.6 840L861 840.5L862.8 840.5L864.2 840L864.6 839.4L865.1 838.3L865.1 836.7L864.6 835.6L863.7 834.5L861.9 834M868.7 831.8L868.7 831.2L869.1 830.1L869.6 829.6L870.5 829.1L872.4 829.1L873.3 829.6L873.7 830.1L874.2 831.2L874.2 832.3L872.8 835L868.2 840.5L874.7 840.5M878.6 839.4L878.1 840L878.6 840.5L879.1 840L878.6 839.4M885.8 834L884.4 833.4L883.5 832.9L883 831.8L883 830.7L883.5 829.6L884.9 829.1L886.7 829.1L888.1 829.6L888.5 830.7L888.5 831.8L888.1 832.9L887.2 833.4L885.8 834M885.8 834L883.9 834.5L883 835.6L882.5 836.7L882.5 838.3L883 839.4L883.5 840L884.9 840.5L886.7 840.5L888.1 840L888.5 839.4L889 838.3L889 836.7L888.5 835.6L887.6 834.5L885.8 834M891.7 829.1L894 840.5M900.9 829.1L898.6 840.5M896.3 829.1L894 840.5M896.3 829.1L898.6 840.5" fill="none" stroke="#000" stroke-width="1.3" stroke-linecap="round" stroke-linejoin="round"/>
<path d="M134.5 8.3L134.5 29.7M142.6 8.3L149.9 29.7M157.2 8.3L149.9 29.7M142.6 8.3L142.6 29.7M157.2 8.3L157.2 29.7M178.4 8.3L178.4 29.7L165.6 8.3M165.6 8.3L165.6 29.7M201.3 4.2L184.9 36.8M219.7 11.3L217.9 9.3L215.1 8.3L211.5 8.3L208.7 9.3L206.9 11.3L206.9 13.4L207.8 15.4L208.7 16.4L210.6 17.5L216.1 19.5L217.9 20.5L218.8 21.5L219.7 23.6L219.7 26.6L217.9 28.7L215.1 29.7L211.5 29.7L208.7 28.7L206.9 26.6M231.4 8.3L224.1 29.7M231.4 8.3L238.7 29.7M226.8 22.6L235.9 22.6M243.8 18.5L243.8 8.3L252 8.3L254.8 9.3L255.7 10.3L256.6 12.4L256.6 14.4L255.7 16.4L254.8 17.5L252 18.5L250.2 18.5M243.8 18.5L250.2 18.5M243.8 18.5L243.8 29.7M250.2 18.5L256.6 29.7M268.1 8.3L260.8 29.7M268.1 8.3L275.4 29.7M263.5 22.6L272.7 22.6M280.5 19.5L280.5 8.3L288.7 8.3L291.5 9.3L292.4 10.3L293.3 12.4L293.3 15.4L292.4 17.5L291.5 18.5L288.7 19.5L280.5 19.5M280.5 19.5L280.5 29.7M300.2 8.3L300.2 29.7M315.4 25.6L318.1 28.7M316.3 29.7L318.1 28.7L320 26.6L320.9 24.6L321.8 21.5L321.8 16.4L320 11.3L318.1 9.3L316.3 8.3L312.6 8.3L310.8 9.3L309 11.3L308.1 13.4L307.2 16.4L307.2 21.5L309 26.6L310.8 28.7L312.6 29.7L316.3 29.7M318.1 28.7L320.9 31.7M328.9 8.3L328.9 23.6L329.9 26.6L331.7 28.7L334.4 29.7L336.2 29.7L339 28.7L340.8 26.6L341.7 23.6L341.7 8.3M349.6 8.3L349.6 29.7M352.8 36.8L370.6 36.8M387.4 8.3L378.3 8.3L377.4 17.5L378.3 16.4L381 15.4L383.8 15.4L386.5 16.4L388.3 18.5L389.2 21.5L389.2 23.6L388.3 26.6L386.5 28.7L383.8 29.7L381 29.7L378.3 28.7L377.4 27.7L376.5 25.6" fill="none" stroke="#000" stroke-width="1.5" stroke-linecap="round" stroke-linejoin="round"/>
<path d="M412.5 19.5L412.5 8.3L420.8 8.3L423.5 9.3L424.4 10.3L425.4 12.4L425.4 15.4L424.4 17.5L423.5 18.5L420.8 19.5L412.5 19.5M412.5 19.5L412.5 29.7M432.4 15.4L432.4 21.5M439.8 15.4L437 15.4L435.2 16.4L433.4 18.5L432.4 21.5M432.4 21.5L432.4 29.7M444.2 21.5L445.1 18.5L447 16.4L448.8 15.4L451.6 15.4L453.4 16.4L454.3 17.5L455.2 19.5L455.2 21.5L444.2 21.5M444.2 21.5L444.2 23.6L445.1 26.6L447 28.7L448.8 29.7L451.6 29.7L453.4 28.7L455.2 26.6M472.7 18.5L470.8 16.4L469 15.4L466.2 15.4L464.4 16.4L462.5 18.5L461.6 21.5L461.6 23.6L462.5 26.6L464.4 28.7L466.2 29.7L469 29.7L470.8 28.7L472.7 26.6M479.7 15.4L479.7 29.7M479.7 7.3L478.8 8.3L479.7 9.3L480.6 8.3L479.7 7.3M487.7 15.4L487.7 18.5M487.7 18.5L489.6 16.4L491.4 15.4L494.2 15.4L496 16.4L497.8 18.5L498.8 21.5L498.8 23.6L497.8 26.6L496 28.7L494.2 29.7L491.4 29.7L489.6 28.7L487.7 26.6M487.7 18.5L487.7 26.6M487.7 26.6L487.7 36.8M505.8 15.4L505.8 29.7M505.8 7.3L504.9 8.3L505.8 9.3L506.8 8.3L505.8 7.3M514.6 8.3L514.6 15.4M511.8 15.4L514.6 15.4M514.6 15.4L518.3 15.4M514.6 15.4L514.6 25.6L515.5 28.7L517.4 29.7L519.2 29.7M535.6 15.4L535.6 18.5M535.6 18.5L533.7 16.4L531.9 15.4L529.1 15.4L527.3 16.4L525.5 18.5L524.5 21.5L524.5 23.6L525.5 26.6L527.3 28.7L529.1 29.7L531.9 29.7L533.7 28.7L535.6 26.6M535.6 18.5L535.6 26.6M535.6 26.6L535.6 29.7M553.9 18.5L552.1 16.4L550.3 15.4L547.5 15.4L545.7 16.4L543.8 18.5L542.9 21.5L542.9 23.6L543.8 26.6L545.7 28.7L547.5 29.7L550.3 29.7L552.1 28.7L553.9 26.6M561 15.4L561 29.7M561 7.3L560.1 8.3L561 9.3L561.9 8.3L561 7.3M572.7 15.4L575.4 15.4L577.3 16.4L579.1 18.5L580 21.5L580 23.6L579.1 26.6L577.3 28.7L575.4 29.7L572.7 29.7L570.8 28.7L569 26.6L568.1 23.6L568.1 21.5L569 18.5L570.8 16.4L572.7 15.4M587.4 15.4L587.4 19.5M587.4 19.5L590.1 16.4L592 15.4L594.7 15.4L596.6 16.4L597.5 19.5L597.5 29.7M587.4 19.5L587.4 29.7" fill="none" stroke="#000" stroke-width="1.5" stroke-linecap="round" stroke-linejoin="round"/>
<path d="M626.1 8.3L618.8 29.7M626.1 8.3L633.4 29.7M621.5 22.6L630.6 22.6M648.6 18.5L646.8 16.4L645 15.4L642.2 15.4L640.4 16.4L638.6 18.5L637.7 21.5L637.7 23.6L638.6 26.6L640.4 28.7L642.2 29.7L645 29.7L646.8 28.7L648.6 26.6M655.9 15.4L655.9 25.6L656.8 28.7L658.6 29.7L661.4 29.7L663.2 28.7L665.9 25.6M665.9 15.4L665.9 25.6M665.9 25.6L665.9 29.7M674.4 15.4L674.4 19.5M674.4 19.5L677.2 16.4L679 15.4L681.7 15.4L683.5 16.4L684.5 19.5M684.5 19.5L687.2 16.4L689 15.4L691.8 15.4L693.6 16.4L694.5 19.5L694.5 29.7M674.4 19.5L674.4 29.7M684.5 19.5L684.5 29.7M703 15.4L703 25.6L703.9 28.7L705.7 29.7L708.4 29.7L710.3 28.7L713 25.6M713 15.4L713 25.6M713 25.6L713 29.7M721 8.3L721 29.7M738.9 15.4L738.9 18.5M738.9 18.5L737.1 16.4L735.3 15.4L732.6 15.4L730.7 16.4L728.9 18.5L728 21.5L728 23.6L728.9 26.6L730.7 28.7L732.6 29.7L735.3 29.7L737.1 28.7L738.9 26.6M738.9 18.5L738.9 26.6M738.9 26.6L738.9 29.7M757.2 8.3L757.2 18.5M757.2 18.5L755.4 16.4L753.5 15.4L750.8 15.4L749 16.4L747.2 18.5L746.2 21.5L746.2 23.6L747.2 26.6L749 28.7L750.8 29.7L753.5 29.7L755.4 28.7L757.2 26.6M757.2 18.5L757.2 26.6M757.2 26.6L757.2 29.7M775.5 15.4L775.5 18.5M775.5 18.5L773.6 16.4L771.8 15.4L769.1 15.4L767.2 16.4L765.4 18.5L764.5 21.5L764.5 23.6L765.4 26.6L767.2 28.7L769.1 29.7L771.8 29.7L773.6 28.7L775.5 26.6M775.5 18.5L775.5 26.6M775.5 26.6L775.5 29.7" fill="none" stroke="#000" stroke-width="1.5" stroke-linecap="round" stroke-linejoin="round"/>
<path d="M798.5 21.5L799.5 18.5L801.5 16.4L803.4 15.4L806.4 15.4L808.3 16.4L809.3 17.5L810.3 19.5L810.3 21.5L798.5 21.5M798.5 21.5L798.5 23.6L799.5 26.6L801.5 28.7L803.4 29.7L806.4 29.7L808.3 28.7L810.3 26.6M818 15.4L818 19.5M818 19.5L820.9 16.4L822.9 15.4L825.8 15.4L827.8 16.4L828.8 19.5L828.8 29.7M818 19.5L818 29.7" fill="none" stroke="#000" stroke-width="1.5" stroke-linecap="round" stroke-linejoin="round"/>
<path d="M863.6 11.3L862.7 9.3L859.9 8.3L858.1 8.3L855.3 9.3L853.5 12.4L852.6 17.5L852.6 22.6M852.6 22.6L853.5 19.5L855.3 17.5L858.1 16.4L859 16.4L861.8 17.5L863.6 19.5L864.5 22.6L864.5 23.6L863.6 26.6L861.8 28.7L859 29.7L858.1 29.7L855.3 28.7L853.5 26.6L852.6 22.6" fill="none" stroke="#000" stroke-width="1.5" stroke-linecap="round" stroke-linejoin="round"/>
<path d="M889 8.3L889 19.5M889 19.5L891.8 16.4L893.6 15.4L896.4 15.4L898.2 16.4L899.1 19.5L899.1 29.7M889 19.5L889 29.7M911.1 15.4L913.8 15.4L915.6 16.4L917.5 18.5L918.4 21.5L918.4 23.6L917.5 26.6L915.6 28.7L913.8 29.7L911.1 29.7L909.2 28.7L907.4 26.6L906.5 23.6L906.5 21.5L907.4 18.5L909.2 16.4L911.1 15.4M925.6 15.4L925.6 21.5M932.9 15.4L930.2 15.4L928.3 16.4L926.5 18.5L925.6 21.5M925.6 21.5L925.6 29.7M948.4 15.4L948.4 18.5M948.4 18.5L946.5 16.4L944.7 15.4L942 15.4L940.1 16.4L938.3 18.5L937.4 21.5L937.4 23.6L938.3 26.6L940.1 28.7L942 29.7L944.7 29.7L946.5 28.7L948.4 26.6M948.4 18.5L948.4 26.6M948.4 26.6L948.4 29.7M965.8 18.5L964.8 16.4L962.1 15.4L959.3 15.4L956.6 16.4L955.7 18.5L956.6 20.5L958.4 21.5L963 22.6L964.8 23.6L965.8 25.6L965.8 26.6L964.8 28.7L962.1 29.7L959.3 29.7L956.6 28.7L955.7 26.6" fill="none" stroke="#000" stroke-width="1.5" stroke-linecap="round" stroke-linejoin="round"/>
<path d="M995.1 4.2L993.2 6.2L991.3 9.3L989.5 13.4L988.5 18.5L988.5 22.6L989.5 27.7L991.3 31.7L993.2 34.8L995.1 36.8M1002.7 15.4L1002.7 19.5M1002.7 19.5L1005.5 16.4L1007.3 15.4L1010.1 15.4L1012 16.4L1012.9 19.5M1012.9 19.5L1015.7 16.4L1017.6 15.4L1020.4 15.4L1022.3 16.4L1023.2 19.5L1023.2 29.7M1002.7 19.5L1002.7 29.7M1012.9 19.5L1012.9 29.7M1032.1 15.4L1032.1 19.5M1032.1 19.5L1034.9 16.4L1036.8 15.4L1039.6 15.4L1041.4 16.4L1042.4 19.5M1042.4 19.5L1045.2 16.4L1047 15.4L1049.8 15.4L1051.7 16.4L1052.6 19.5L1052.6 29.7M1032.1 19.5L1032.1 29.7M1042.4 19.5L1042.4 29.7M1060.2 4.2L1062.1 6.2L1064 9.3L1065.8 13.4L1066.8 18.5L1066.8 22.6L1065.8 27.7L1064 31.7L1062.1 34.8L1060.2 36.8" fill="none" stroke="#000" stroke-width="1.5" stroke-linecap="round" stroke-linejoin="round"/>
<path d="M465.9 44.7L465.9 43.7L466.8 41.6L467.7 40.6L469.5 39.6L473.1 39.6L474.9 40.6L475.8 41.6L476.7 43.7L476.7 45.7L474 50.8L464.9 61L477.6 61M489.5 39.6L491.3 39.6L494 40.6L495.8 43.7L496.7 48.8L496.7 51.8L495.8 56.9L494 60L491.3 61L489.5 61L486.8 60L485 56.9L484 51.8L484 48.8L485 43.7L486.8 40.6L489.5 39.6M504 44.7L504 43.7L505 41.6L505.9 40.6L507.7 39.6L511.3 39.6L513.1 40.6L514 41.6L514.9 43.7L514.9 45.7L512.2 50.8L503.1 61L515.8 61M534 42.6L533.1 40.6L530.4 39.6L528.6 39.6L525.9 40.6L524 43.7L523.1 48.8L523.1 53.9M523.1 53.9L524 50.8L525.9 48.8L528.6 47.7L529.5 47.7L532.2 48.8L534 50.8L534.9 53.9L534.9 54.9L534 57.9L532.2 60L529.5 61L528.6 61L525.9 60L524 57.9L523.1 53.9M542.4 51.8L558.7 51.8M571.6 39.6L573.4 39.6L576.1 40.6L577.9 43.7L578.8 48.8L578.8 51.8L577.9 56.9L576.1 60L573.4 61L571.6 61L568.9 60L567.1 56.9L566.1 51.8L566.1 48.8L567.1 43.7L568.9 40.6L571.6 39.6M586.1 44.7L586.1 43.7L587.1 41.6L588 40.6L589.8 39.6L593.4 39.6L595.2 40.6L596.1 41.6L597 43.7L597 45.7L594.3 50.8L585.2 61L597.9 61M605.4 51.8L621.7 51.8M631.9 43.7L633.7 42.6L636.4 39.6L636.4 61M653.7 39.6L655.5 39.6L658.2 40.6L660 43.7L661 48.8L661 51.8L660 56.9L658.2 60L655.5 61L653.7 61L651 60L649.2 56.9L648.3 51.8L648.3 48.8L649.2 43.7L651 40.6L653.7 39.6" fill="none" stroke="#000" stroke-width="1.5" stroke-linecap="round" stroke-linejoin="round"/>
<path d="M691.3 43.7L692.9 42.6L695.4 39.6L695.4 61M707 44.7L707 43.7L707.8 41.6L708.6 40.6L710.3 39.6L713.6 39.6L715.2 40.6L716 41.6L716.9 43.7L716.9 45.7L714.4 50.8L706.1 61L717.7 61M723.5 39.6L735.1 39.6L723.5 61L735.1 61" fill="none" stroke="#000" stroke-width="1.5" stroke-linecap="round" stroke-linejoin="round"/>
<path d="M330.4 861L330.4 876.2M337 866.1L337 869M337 869L339.4 866.8L341.1 866.1L343.5 866.1L345.2 866.8L346 869L346 876.2M337 869L337 876.2M360.8 868.2L360 866.8L357.5 866.1L355.1 866.1L352.6 866.8L351.8 868.2L352.6 869.7L354.2 870.4L358.3 871.1L360 871.9L360.8 873.3L360.8 874L360 875.5L357.5 876.2L355.1 876.2L352.6 875.5L351.8 874M367.4 861L367.4 866.1M364.9 866.1L367.4 866.1M367.4 866.1L370.7 866.1M367.4 866.1L367.4 873.3L368.2 875.5L369.9 876.2L371.5 876.2M376.4 866.1L376.4 876.2M376.4 860.2L375.6 861L376.4 861.7L377.3 861L376.4 860.2M383.8 861L383.8 866.1M381.4 866.1L383.8 866.1M383.8 866.1L387.1 866.1M383.8 866.1L383.8 873.3L384.7 875.5L386.3 876.2L388 876.2M392.9 866.1L392.9 873.3L393.7 875.5L395.4 876.2L397.8 876.2L399.5 875.5L401.9 873.3M401.9 866.1L401.9 873.3M401.9 873.3L401.9 876.2M409.4 861L409.4 866.1M406.9 866.1L409.4 866.1M409.4 866.1L412.6 866.1M409.4 866.1L409.4 873.3L410.2 875.5L411.8 876.2L413.5 876.2M421.7 866.1L424.2 866.1L425.8 866.8L427.5 868.2L428.3 870.4L428.3 871.9L427.5 874L425.8 875.5L424.2 876.2L421.7 876.2L420 875.5L418.4 874L417.6 871.9L417.6 870.4L418.4 868.2L420 866.8L421.7 866.1" fill="none" stroke="#0c0c0c" stroke-width="0.95" stroke-linecap="round" stroke-linejoin="round"/>
<path d="M448 861L454.6 876.2M461.2 861L454.6 876.2M448 861L448 876.2M461.2 861L461.2 876.2M466.9 870.4L467.8 868.2L469.4 866.8L471.1 866.1L473.5 866.1L475.2 866.8L476 867.5L476.8 869L476.8 870.4L466.9 870.4M466.9 870.4L466.9 871.9L467.8 874L469.4 875.5L471.1 876.2L473.5 876.2L475.2 875.5L476.8 874M483.4 861L483.4 866.1M481 866.1L483.4 866.1M483.4 866.1L486.7 866.1M483.4 866.1L483.4 873.3L484.3 875.5L485.9 876.2L487.6 876.2M491.7 870.4L492.5 868.2L494.2 866.8L495.8 866.1L498.3 866.1L499.9 866.8L500.8 867.5L501.6 869L501.6 870.4L491.7 870.4M491.7 870.4L491.7 871.9L492.5 874L494.2 875.5L495.8 876.2L498.3 876.2L499.9 875.5L501.6 874M510.7 866.1L513.1 866.1L514.8 866.8L516.4 868.2L517.3 870.4L517.3 871.9L516.4 874L514.8 875.5L513.1 876.2L510.7 876.2L509 875.5L507.4 874L506.5 871.9L506.5 870.4L507.4 868.2L509 866.8L510.7 866.1M523 866.1L523 870.4M529.6 866.1L527.2 866.1L525.5 866.8L523.9 868.2L523 870.4M523 870.4L523 876.2M537.1 866.1L539.5 866.1L541.2 866.8L542.8 868.2L543.7 870.4L543.7 871.9L542.8 874L541.2 875.5L539.5 876.2L537.1 876.2L535.4 875.5L533.8 874L532.9 871.9L532.9 870.4L533.8 868.2L535.4 866.8L537.1 866.1M549.4 861L549.4 876.2M559.3 866.1L561.8 866.1L563.5 866.8L565.1 868.2L565.9 870.4L565.9 871.9L565.1 874L563.5 875.5L561.8 876.2L559.3 876.2L557.7 875.5L556 874L555.2 871.9L555.2 870.4L556 868.2L557.7 866.8L559.3 866.1M580.8 866.1L580.8 868.2M580.8 868.2L579.1 866.8L577.5 866.1L575 866.1L573.4 866.8L571.7 868.2L570.9 870.4L570.9 871.9L571.7 874L573.4 875.5L575 876.2L577.5 876.2L579.1 875.5L580.8 874M580.8 868.2L580.8 874M580.8 874L580.8 877.7L580 879.8L579.1 880.6L577.5 881.3L575 881.3L573.4 880.6M587.4 866.1L587.4 876.2M587.4 860.2L586.6 861L587.4 861.7L588.2 861L587.4 860.2M603.1 868.2L601.4 866.8L599.8 866.1L597.3 866.1L595.6 866.8L594 868.2L593.2 870.4L593.2 871.9L594 874L595.6 875.5L597.3 876.2L599.8 876.2L601.4 875.5L603.1 874M612.1 866.1L614.6 866.1L616.3 866.8L617.9 868.2L618.7 870.4L618.7 871.9L617.9 874L616.3 875.5L614.6 876.2L612.1 876.2L610.5 875.5L608.8 874L608 871.9L608 870.4L608.8 868.2L610.5 866.8L612.1 866.1" fill="none" stroke="#0c0c0c" stroke-width="0.95" stroke-linecap="round" stroke-linejoin="round"/>
<path d="M649.6 861L649.6 876.2L638 861M638 861L638 876.2M665.3 866.1L665.3 868.2M665.3 868.2L663.6 866.8L662 866.1L659.5 866.1L657.8 866.8L656.2 868.2L655.3 870.4L655.3 871.9L656.2 874L657.8 875.5L659.5 876.2L662 876.2L663.6 875.5L665.3 874M665.3 868.2L665.3 874M665.3 874L665.3 876.2M681 868.2L679.3 866.8L677.7 866.1L675.2 866.1L673.5 866.8L671.9 868.2L671.1 870.4L671.1 871.9L671.9 874L673.5 875.5L675.2 876.2L677.7 876.2L679.3 875.5L681 874M686.8 866.1L686.8 876.2M686.8 860.2L685.9 861L686.8 861.7L687.6 861L686.8 860.2M696.7 866.1L699.2 866.1L700.8 866.8L702.5 868.2L703.3 870.4L703.3 871.9L702.5 874L700.8 875.5L699.2 876.2L696.7 876.2L695 875.5L693.4 874L692.6 871.9L692.6 870.4L693.4 868.2L695 866.8L696.7 866.1M709.1 866.1L709.1 869M709.1 869L711.6 866.8L713.2 866.1L715.7 866.1L717.4 866.8L718.2 869L718.2 876.2M709.1 869L709.1 876.2M733.9 866.1L733.9 868.2M733.9 868.2L732.3 866.8L730.6 866.1L728.1 866.1L726.5 866.8L724.8 868.2L724 870.4L724 871.9L724.8 874L726.5 875.5L728.1 876.2L730.6 876.2L732.3 875.5L733.9 874M733.9 868.2L733.9 874M733.9 874L733.9 876.2M740.5 861L740.5 876.2" fill="none" stroke="#0c0c0c" stroke-width="0.95" stroke-linecap="round" stroke-linejoin="round"/>
<path d="M772.7 864.6L771.8 863.2L770.2 861.7L768.6 861L765.3 861L763.7 861.7L762.1 863.2L760.5 866.8L760.5 870.4L762.1 874L763.7 875.5L765.3 876.2L768.6 876.2L770.2 875.5L771.8 874L772.7 872.6M781.6 866.1L784 866.1L785.7 866.8L787.3 868.2L788.1 870.4L788.1 871.9L787.3 874L785.7 875.5L784 876.2L781.6 876.2L780 875.5L778.3 874L777.5 871.9L777.5 870.4L778.3 868.2L780 866.8L781.6 866.1M801.9 868.2L801.1 866.8L798.7 866.1L796.2 866.1L793.8 866.8L793 868.2L793.8 869.7L795.4 870.4L799.5 871.1L801.1 871.9L801.9 873.3L801.9 874L801.1 875.5L798.7 876.2L796.2 876.2L793.8 875.5L793 874M808.4 861L808.4 866.1M806 866.1L808.4 866.1M808.4 866.1L811.7 866.1M808.4 866.1L808.4 873.3L809.2 875.5L810.8 876.2L812.5 876.2M826.3 866.1L826.3 868.2M826.3 868.2L824.7 866.8L823 866.1L820.6 866.1L819 866.8L817.3 868.2L816.5 870.4L816.5 871.9L817.3 874L819 875.5L820.6 876.2L823 876.2L824.7 875.5L826.3 874M826.3 868.2L826.3 874M826.3 874L826.3 876.2" fill="none" stroke="#0c0c0c" stroke-width="0.95" stroke-linecap="round" stroke-linejoin="round"/>
<path d="M847 868.2L847 861L854.7 861L857.2 861.7L858.1 862.4L858.9 863.9L858.9 865.3L858.1 866.8L857.2 867.5L854.7 868.2L852.9 868.2M847 868.2L852.9 868.2M847 868.2L847 876.2M852.9 868.2L858.9 876.2M864.7 866.1L864.7 876.2M864.7 860.2L863.9 861L864.7 861.7L865.6 861L864.7 860.2M880.9 868.2L879.2 866.8L877.5 866.1L875 866.1L873.2 866.8L871.5 868.2L870.7 870.4L870.7 871.9L871.5 874L873.2 875.5L875 876.2L877.5 876.2L879.2 875.5L880.9 874M896.3 866.1L896.3 868.2M896.3 868.2L894.6 866.8L892.9 866.1L890.3 866.1L888.6 866.8L886.9 868.2L886 870.4L886 871.9L886.9 874L888.6 875.5L890.3 876.2L892.9 876.2L894.6 875.5L896.3 874M896.3 868.2L896.3 874M896.3 874L896.3 876.2" fill="none" stroke="#0c0c0c" stroke-width="0.95" stroke-linecap="round" stroke-linejoin="round"/>
<path d="M1057.7 132.2L1068.7 89.4L1079.6 132.2Z" fill="#a0a0a0" stroke="#000" stroke-width="1.4" stroke-linejoin="miter"/><rect x="1057.7" y="132.2" width="21.9" height="42.4" fill="#f5f5f5" stroke="#000" stroke-width="1.4"/><rect x="1057.7" y="174.5" width="21.9" height="42.4" fill="#9932cc" stroke="#000" stroke-width="1.4"/><rect x="1057.7" y="216.9" width="21.9" height="42.4" fill="#ff00ff" stroke="#000" stroke-width="1.4"/><rect x="1057.7" y="259.2" width="21.9" height="42.4" fill="#990000" stroke="#000" stroke-width="1.4"/><rect x="1057.7" y="301.6" width="21.9" height="42.4" fill="#cc3300" stroke="#000" stroke-width="1.4"/><rect x="1057.7" y="343.9" width="21.9" height="42.4" fill="#ff0000" stroke="#000" stroke-width="1.4"/><rect x="1057.7" y="386.3" width="21.9" height="42.4" fill="#ff6600" stroke="#000" stroke-width="1.4"/><rect x="1057.7" y="428.6" width="21.9" height="42.4" fill="#ffcc00" stroke="#000" stroke-width="1.4"/><rect x="1057.7" y="471" width="21.9" height="42.4" fill="#ffff00" stroke="#000" stroke-width="1.4"/><rect x="1057.7" y="513.4" width="21.9" height="42.4" fill="#009900" stroke="#000" stroke-width="1.4"/><rect x="1057.7" y="555.7" width="21.9" height="42.4" fill="#00cc00" stroke="#000" stroke-width="1.4"/><rect x="1057.7" y="598" width="21.9" height="42.4" fill="#00ff00" stroke="#000" stroke-width="1.4"/><rect x="1057.7" y="640.4" width="21.9" height="42.4" fill="#0000ff" stroke="#000" stroke-width="1.4"/><rect x="1057.7" y="682.8" width="21.9" height="42.4" fill="#3399ff" stroke="#000" stroke-width="1.4"/><rect x="1057.7" y="725.1" width="21.9" height="42.4" fill="#66ffff" stroke="#000" stroke-width="1.4"/><path d="M1057.7 767.5L1068.7 810.5L1079.6 767.5Z" fill="#fff" stroke="#000" stroke-width="1.4"/><path d="M1079.6 132.2h3M1079.6 174.5h3M1079.6 216.9h3M1079.6 259.2h3M1079.6 301.6h3M1079.6 343.9h3M1079.6 386.3h3M1079.6 428.6h3M1079.6 471h3M1079.6 513.4h3M1079.6 555.7h3M1079.6 598h3M1079.6 640.4h3M1079.6 682.8h3M1079.6 725.1h3M1079.6 767.5h3" stroke="#000" stroke-width="1.4" fill="none"/>
<path d="M1087.4 129L1087.4 128.3L1088 127L1088.7 126.4L1089.9 125.8L1092.4 125.8L1093.6 126.4L1094.2 127L1094.9 128.3L1094.9 129.6L1093 132.8L1086.8 139.2L1095.5 139.2M1103.6 125.8L1104.9 125.8L1106.7 126.4L1108 128.3L1108.6 131.5L1108.6 133.4L1108 136.6L1106.7 138.6L1104.9 139.2L1103.6 139.2L1101.8 138.6L1100.5 136.6L1099.9 133.4L1099.9 131.5L1100.5 128.3L1101.8 126.4L1103.6 125.8M1116.7 125.8L1118 125.8L1119.8 126.4L1121.1 128.3L1121.7 131.5L1121.7 133.4L1121.1 136.6L1119.8 138.6L1118 139.2L1116.7 139.2L1114.9 138.6L1113.6 136.6L1113 133.4L1113 131.5L1113.6 128.3L1114.9 126.4L1116.7 125.8" fill="none" stroke="#000" stroke-width="1.3" stroke-linecap="round" stroke-linejoin="round"/>
<path d="M1088.7 170.7L1089.9 170L1091.8 168.1L1091.8 181.5M1107.3 168.1L1101.1 168.1L1100.5 173.9L1101.1 173.2L1103 172.6L1104.9 172.6L1106.7 173.2L1108 174.5L1108.6 176.4L1108.6 177.7L1108 179.6L1106.7 180.9L1104.9 181.5L1103 181.5L1101.1 180.9L1100.5 180.3L1099.9 179M1116.7 168.1L1118 168.1L1119.8 168.7L1121.1 170.7L1121.7 173.9L1121.7 175.8L1121.1 179L1119.8 180.9L1118 181.5L1116.7 181.5L1114.9 180.9L1113.6 179L1113 175.8L1113 173.9L1113.6 170.7L1114.9 168.7L1116.7 168.1" fill="none" stroke="#000" stroke-width="1.3" stroke-linecap="round" stroke-linejoin="round"/>
<path d="M1088.7 213L1089.9 212.4L1091.8 210.5L1091.8 223.9M1100.5 213.7L1100.5 213L1101.1 211.7L1101.8 211.1L1103 210.5L1105.5 210.5L1106.7 211.1L1107.3 211.7L1108 213L1108 214.3L1106.1 217.5L1099.9 223.9L1108.6 223.9M1116.7 210.5L1118 210.5L1119.8 211.1L1121.1 213L1121.7 216.2L1121.7 218.1L1121.1 221.3L1119.8 223.3L1118 223.9L1116.7 223.9L1114.9 223.3L1113.6 221.3L1113 218.1L1113 216.2L1113.6 213L1114.9 211.1L1116.7 210.5" fill="none" stroke="#000" stroke-width="1.3" stroke-linecap="round" stroke-linejoin="round"/>
<path d="M1088.7 255.4L1089.9 254.7L1091.8 252.8L1091.8 266.2M1103.6 252.8L1104.9 252.8L1106.7 253.4L1108 255.4L1108.6 258.6L1108.6 260.5L1108 263.7L1106.7 265.6L1104.9 266.2L1103.6 266.2L1101.8 265.6L1100.5 263.7L1099.9 260.5L1099.9 258.6L1100.5 255.4L1101.8 253.4L1103.6 252.8M1116.7 252.8L1118 252.8L1119.8 253.4L1121.1 255.4L1121.7 258.6L1121.7 260.5L1121.1 263.7L1119.8 265.6L1118 266.2L1116.7 266.2L1114.9 265.6L1113.6 263.7L1113 260.5L1113 258.6L1113.6 255.4L1114.9 253.4L1116.7 252.8" fill="none" stroke="#000" stroke-width="1.3" stroke-linecap="round" stroke-linejoin="round"/>
<path d="M1094.9 299.6L1094.2 297.1L1093 295.8L1091.1 295.2L1090.5 295.2L1088.7 295.8L1087.4 297.1L1086.8 299L1086.8 299.6L1087.4 301.6L1088.7 302.8L1090.5 303.5L1091.1 303.5L1093 302.8L1094.2 301.6L1094.9 299.6M1094.9 299.6L1094.9 302.8L1094.2 306L1093 308L1091.1 308.6L1089.9 308.6L1088 308L1087.4 306.7M1103.6 295.2L1104.9 295.2L1106.7 295.8L1108 297.7L1108.6 300.9L1108.6 302.8L1108 306L1106.7 308L1104.9 308.6L1103.6 308.6L1101.8 308L1100.5 306L1099.9 302.8L1099.9 300.9L1100.5 297.7L1101.8 295.8L1103.6 295.2" fill="none" stroke="#000" stroke-width="1.3" stroke-linecap="round" stroke-linejoin="round"/>
<path d="M1086.8 337.5L1095.5 337.5L1089.3 350.9M1107.3 337.5L1101.1 337.5L1100.5 343.3L1101.1 342.6L1103 342L1104.9 342L1106.7 342.6L1108 343.9L1108.6 345.8L1108.6 347.1L1108 349L1106.7 350.3L1104.9 350.9L1103 350.9L1101.1 350.3L1100.5 349.7L1099.9 348.4" fill="none" stroke="#000" stroke-width="1.3" stroke-linecap="round" stroke-linejoin="round"/>
<path d="M1094.9 381.8L1094.2 380.5L1092.4 379.9L1091.1 379.9L1089.3 380.5L1088 382.4L1087.4 385.6L1087.4 388.8M1087.4 388.8L1088 386.9L1089.3 385.6L1091.1 385L1091.8 385L1093.6 385.6L1094.9 386.9L1095.5 388.8L1095.5 389.5L1094.9 391.4L1093.6 392.7L1091.8 393.3L1091.1 393.3L1089.3 392.7L1088 391.4L1087.4 388.8M1103.6 379.9L1104.9 379.9L1106.7 380.5L1108 382.4L1108.6 385.6L1108.6 387.5L1108 390.7L1106.7 392.7L1104.9 393.3L1103.6 393.3L1101.8 392.7L1100.5 390.7L1099.9 387.5L1099.9 385.6L1100.5 382.4L1101.8 380.5L1103.6 379.9" fill="none" stroke="#000" stroke-width="1.3" stroke-linecap="round" stroke-linejoin="round"/>
<path d="M1094.2 422.2L1088 422.2L1087.4 428L1088 427.3L1089.9 426.7L1091.8 426.7L1093.6 427.3L1094.9 428.6L1095.5 430.5L1095.5 431.8L1094.9 433.7L1093.6 435L1091.8 435.6L1089.9 435.6L1088 435L1087.4 434.4L1086.8 433.1M1103.6 422.2L1104.9 422.2L1106.7 422.8L1108 424.8L1108.6 428L1108.6 429.9L1108 433.1L1106.7 435L1104.9 435.6L1103.6 435.6L1101.8 435L1100.5 433.1L1099.9 429.9L1099.9 428L1100.5 424.8L1101.8 422.8L1103.6 422.2" fill="none" stroke="#000" stroke-width="1.3" stroke-linecap="round" stroke-linejoin="round"/>
<path d="M1093 464.6L1086.8 473.5L1093 473.5M1093 464.6L1093 473.5M1093 473.5L1096.1 473.5M1093 473.5L1093 478M1103.6 464.6L1104.9 464.6L1106.7 465.2L1108 467.1L1108.6 470.3L1108.6 472.2L1108 475.4L1106.7 477.4L1104.9 478L1103.6 478L1101.8 477.4L1100.5 475.4L1099.9 472.2L1099.9 470.3L1100.5 467.1L1101.8 465.2L1103.6 464.6" fill="none" stroke="#000" stroke-width="1.3" stroke-linecap="round" stroke-linejoin="round"/>
<path d="M1088 506.9L1094.9 506.9L1091.1 512L1093 512L1094.2 512.7L1094.9 513.3L1095.5 515.2L1095.5 516.5L1094.9 518.4L1093.6 519.7L1091.8 520.4L1089.9 520.4L1088 519.7L1087.4 519.1L1086.8 517.8M1103.6 506.9L1104.9 506.9L1106.7 507.6L1108 509.5L1108.6 512.7L1108.6 514.6L1108 517.8L1106.7 519.7L1104.9 520.4L1103.6 520.4L1101.8 519.7L1100.5 517.8L1099.9 514.6L1099.9 512.7L1100.5 509.5L1101.8 507.6L1103.6 506.9" fill="none" stroke="#000" stroke-width="1.3" stroke-linecap="round" stroke-linejoin="round"/>
<path d="M1087.4 552.5L1087.4 551.8L1088 550.5L1088.7 549.9L1089.9 549.3L1092.4 549.3L1093.6 549.9L1094.2 550.5L1094.9 551.8L1094.9 553.1L1093 556.3L1086.8 562.7L1095.5 562.7M1107.3 549.3L1101.1 549.3L1100.5 555L1101.1 554.4L1103 553.7L1104.9 553.7L1106.7 554.4L1108 555.7L1108.6 557.6L1108.6 558.9L1108 560.8L1106.7 562.1L1104.9 562.7L1103 562.7L1101.1 562.1L1100.5 561.4L1099.9 560.1" fill="none" stroke="#000" stroke-width="1.3" stroke-linecap="round" stroke-linejoin="round"/>
<path d="M1087.4 594.8L1087.4 594.2L1088 592.9L1088.7 592.2L1089.9 591.6L1092.4 591.6L1093.6 592.2L1094.2 592.9L1094.9 594.2L1094.9 595.4L1093 598.6L1086.8 605L1095.5 605M1103.6 591.6L1104.9 591.6L1106.7 592.2L1108 594.2L1108.6 597.4L1108.6 599.3L1108 602.5L1106.7 604.4L1104.9 605L1103.6 605L1101.8 604.4L1100.5 602.5L1099.9 599.3L1099.9 597.4L1100.5 594.2L1101.8 592.2L1103.6 591.6" fill="none" stroke="#000" stroke-width="1.3" stroke-linecap="round" stroke-linejoin="round"/>
<path d="M1088.7 636.5L1089.9 635.9L1091.8 634L1091.8 647.4M1107.3 634L1101.1 634L1100.5 639.7L1101.1 639.1L1103 638.4L1104.9 638.4L1106.7 639.1L1108 640.4L1108.6 642.3L1108.6 643.6L1108 645.5L1106.7 646.8L1104.9 647.4L1103 647.4L1101.1 646.8L1100.5 646.1L1099.9 644.8" fill="none" stroke="#000" stroke-width="1.3" stroke-linecap="round" stroke-linejoin="round"/>
<path d="M1088.7 678.9L1089.9 678.2L1091.8 676.3L1091.8 689.8M1100.5 679.5L1100.5 678.9L1101.1 677.6L1101.8 677L1103 676.3L1105.5 676.3L1106.7 677L1107.3 677.6L1108 678.9L1108 680.1L1106.1 683.4L1099.9 689.8L1108.6 689.8M1114.1 688.5L1113.5 689.1L1114.1 689.8L1114.7 689.1L1114.1 688.5M1127 676.3L1120.8 676.3L1120.2 682.1L1120.8 681.4L1122.7 680.8L1124.5 680.8L1126.4 681.4L1127.6 682.7L1128.2 684.6L1128.2 685.9L1127.6 687.8L1126.4 689.1L1124.5 689.8L1122.7 689.8L1120.8 689.1L1120.2 688.5L1119.6 687.2" fill="none" stroke="#000" stroke-width="1.3" stroke-linecap="round" stroke-linejoin="round"/>
<path d="M1086.8 718.7L1095.5 718.7L1089.3 732.1" fill="none" stroke="#000" stroke-width="1.3" stroke-linecap="round" stroke-linejoin="round"/>
<path d="M1088 761L1094.9 761L1091.1 766.1L1093 766.1L1094.2 766.8L1094.9 767.4L1095.5 769.3L1095.5 770.6L1094.9 772.5L1093.6 773.8L1091.8 774.5L1089.9 774.5L1088 773.8L1087.4 773.2L1086.8 771.9M1101 773.2L1100.4 773.8L1101 774.5L1101.6 773.8L1101 773.2M1113.9 761L1107.7 761L1107.1 766.8L1107.7 766.1L1109.6 765.5L1111.4 765.5L1113.3 766.1L1114.5 767.4L1115.1 769.3L1115.1 770.6L1114.5 772.5L1113.3 773.8L1111.4 774.5L1109.6 774.5L1107.7 773.8L1107.1 773.2L1106.5 771.9" fill="none" stroke="#000" stroke-width="1.3" stroke-linecap="round" stroke-linejoin="round"/>
</svg>
</body></html>
